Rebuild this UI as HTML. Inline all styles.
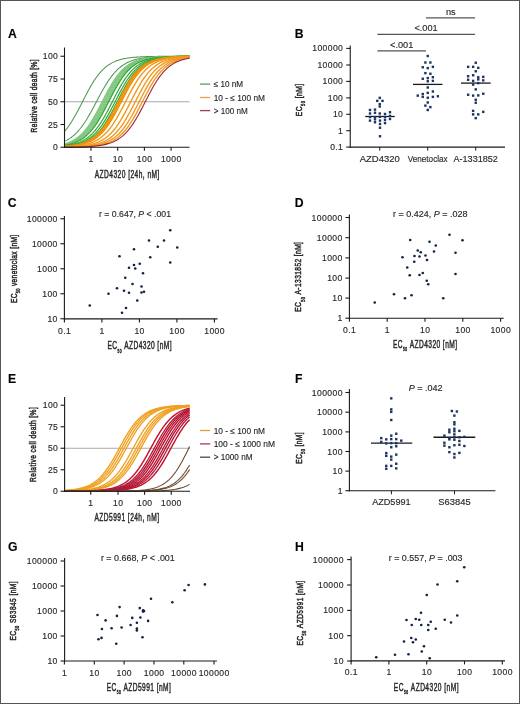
<!DOCTYPE html>
<html><head><meta charset="utf-8"><style>
html,body{margin:0;padding:0;background:#fff;}
svg{display:block;font-family:"Liberation Sans", sans-serif;will-change:transform;}
text{stroke:#2a2a2a;stroke-width:0.15px;}
.lab{stroke-width:0.5px;}
</style></head><body>
<svg width="520" height="704" viewBox="0 0 520 704">
<rect width="520" height="704" fill="#fff"/>
<rect x="0.5" y="0.5" width="519" height="703" fill="none" stroke="#555" stroke-width="1"/>
<text x="8.00" y="38.10" font-size="12.2" text-anchor="start" fill="#000" font-weight="bold" >A</text>
<line x1="64.50" y1="101.75" x2="189.50" y2="101.75" stroke="#a8a8a8" stroke-width="1.0" />
<polyline points="64.50,131.34 65.50,130.17 66.50,128.94 67.50,127.65 68.50,126.29 69.50,124.87 70.50,123.38 71.50,121.83 72.50,120.22 73.50,118.55 74.50,116.83 75.50,115.06 76.50,113.25 77.50,111.39 78.50,109.50 79.50,107.58 80.50,105.64 81.50,103.69 82.50,101.73 83.50,99.77 84.50,97.81 85.50,95.88 86.50,93.96 87.50,92.07 88.50,90.21 89.50,88.40 90.50,86.63 91.50,84.91 92.50,83.24 93.50,81.64 94.50,80.09 95.50,78.60 96.50,77.18 97.50,75.82 98.50,74.53 99.50,73.30 100.50,72.14 101.50,71.04 102.50,70.00 103.50,69.03 104.50,68.11 105.50,67.25 106.50,66.44 107.50,65.69 108.50,64.98 109.50,64.32 110.50,63.71 111.50,63.14 112.50,62.61 113.50,62.12 114.50,61.66 115.50,61.24 116.50,60.85 117.50,60.49 118.50,60.15 119.50,59.84 120.50,59.56 121.50,59.29 122.50,59.05 123.50,58.82 124.50,58.62 125.50,58.43 126.50,58.25 127.50,58.09 128.50,57.94 129.50,57.80 130.50,57.68 131.50,57.56 132.50,57.45 133.50,57.35 134.50,57.26 135.50,57.18 136.50,57.11 137.50,57.04 138.50,56.97 139.50,56.91 140.50,56.86 141.50,56.81 142.50,56.76 143.50,56.72 144.50,56.68 145.50,56.65 146.50,56.61 147.50,56.58 148.50,56.56 149.50,56.53 150.50,56.51 151.50,56.49 152.50,56.47 153.50,56.45 154.50,56.43 155.50,56.42 156.50,56.40 157.50,56.39 158.50,56.38 159.50,56.37 160.50,56.36 161.50,56.35 162.50,56.34 163.50,56.33 164.50,56.33 165.50,56.32 166.50,56.31 167.50,56.31 168.50,56.30 169.50,56.30 170.50,56.30 171.50,56.29 172.50,56.29 173.50,56.29 174.50,56.28 175.50,56.28 176.50,56.28 177.50,56.28 178.50,56.27 179.50,56.27 180.50,56.27 181.50,56.27 182.50,56.27 183.50,56.26 184.50,56.26 185.50,56.26 186.50,56.26 187.50,56.26 188.50,56.26 189.50,56.26" fill="none" stroke="#4a9a50" stroke-width="1.05"/>
<polyline points="64.50,141.37 65.50,140.89 66.50,140.38 67.50,139.83 68.50,139.24 69.50,138.61 70.50,137.93 71.50,137.21 72.50,136.44 73.50,135.61 74.50,134.74 75.50,133.81 76.50,132.82 77.50,131.77 78.50,130.67 79.50,129.51 80.50,128.28 81.50,126.99 82.50,125.65 83.50,124.24 84.50,122.77 85.50,121.24 86.50,119.66 87.50,118.03 88.50,116.35 89.50,114.62 90.50,112.85 91.50,111.04 92.50,109.20 93.50,107.34 94.50,105.45 95.50,103.56 96.50,101.65 97.50,99.75 98.50,97.86 99.50,95.98 100.50,94.12 101.50,92.28 102.50,90.48 103.50,88.71 104.50,86.98 105.50,85.31 106.50,83.68 107.50,82.10 108.50,80.58 109.50,79.12 110.50,77.72 111.50,76.37 112.50,75.09 113.50,73.87 114.50,72.72 115.50,71.62 116.50,70.58 117.50,69.60 118.50,68.67 119.50,67.80 120.50,66.98 121.50,66.22 122.50,65.50 123.50,64.83 124.50,64.20 125.50,63.61 126.50,63.07 127.50,62.56 128.50,62.08 129.50,61.64 130.50,61.23 131.50,60.85 132.50,60.50 133.50,60.18 134.50,59.87 135.50,59.59 136.50,59.33 137.50,59.09 138.50,58.87 139.50,58.67 140.50,58.48 141.50,58.30 142.50,58.14 143.50,57.99 144.50,57.86 145.50,57.73 146.50,57.61 147.50,57.50 148.50,57.40 149.50,57.31 150.50,57.23 151.50,57.15 152.50,57.08 153.50,57.01 154.50,56.95 155.50,56.90 156.50,56.85 157.50,56.80 158.50,56.75 159.50,56.71 160.50,56.68 161.50,56.64 162.50,56.61 163.50,56.58 164.50,56.56 165.50,56.53 166.50,56.51 167.50,56.49 168.50,56.47 169.50,56.45 170.50,56.44 171.50,56.42 172.50,56.41 173.50,56.39 174.50,56.38 175.50,56.37 176.50,56.36 177.50,56.35 178.50,56.35 179.50,56.34 180.50,56.33 181.50,56.32 182.50,56.32 183.50,56.31 184.50,56.31 185.50,56.30 186.50,56.30 187.50,56.29 188.50,56.29 189.50,56.29" fill="none" stroke="#4a9a50" stroke-width="1.05"/>
<polyline points="64.50,143.82 65.50,143.53 66.50,143.21 67.50,142.86 68.50,142.49 69.50,142.08 70.50,141.64 71.50,141.17 72.50,140.66 73.50,140.12 74.50,139.53 75.50,138.90 76.50,138.22 77.50,137.50 78.50,136.72 79.50,135.89 80.50,135.00 81.50,134.06 82.50,133.06 83.50,131.99 84.50,130.87 85.50,129.68 86.50,128.42 87.50,127.10 88.50,125.71 89.50,124.26 90.50,122.75 91.50,121.18 92.50,119.54 93.50,117.85 94.50,116.11 95.50,114.32 96.50,112.49 97.50,110.62 98.50,108.72 99.50,106.79 100.50,104.84 101.50,102.89 102.50,100.93 103.50,98.97 104.50,97.02 105.50,95.09 106.50,93.18 107.50,91.31 108.50,89.47 109.50,87.67 110.50,85.92 111.50,84.22 112.50,82.58 113.50,81.00 114.50,79.47 115.50,78.01 116.50,76.62 117.50,75.29 118.50,74.02 119.50,72.82 120.50,71.68 121.50,70.61 122.50,69.60 123.50,68.64 124.50,67.75 125.50,66.91 126.50,66.13 127.50,65.39 128.50,64.71 129.50,64.07 130.50,63.47 131.50,62.92 132.50,62.41 133.50,61.93 134.50,61.49 135.50,61.08 136.50,60.70 137.50,60.35 138.50,60.02 139.50,59.72 140.50,59.45 141.50,59.19 142.50,58.95 143.50,58.74 144.50,58.54 145.50,58.35 146.50,58.18 147.50,58.03 148.50,57.88 149.50,57.75 150.50,57.63 151.50,57.51 152.50,57.41 153.50,57.32 154.50,57.23 155.50,57.15 156.50,57.08 157.50,57.01 158.50,56.95 159.50,56.89 160.50,56.84 161.50,56.79 162.50,56.74 163.50,56.70 164.50,56.67 165.50,56.63 166.50,56.60 167.50,56.57 168.50,56.55 169.50,56.52 170.50,56.50 171.50,56.48 172.50,56.46 173.50,56.44 174.50,56.43 175.50,56.41 176.50,56.40 177.50,56.39 178.50,56.37 179.50,56.36 180.50,56.36 181.50,56.35 182.50,56.34 183.50,56.33 184.50,56.32 185.50,56.32 186.50,56.31 187.50,56.31 188.50,56.30 189.50,56.30" fill="none" stroke="#7cc67c" stroke-width="1.1"/>
<polyline points="64.50,144.09 65.50,143.82 66.50,143.52 67.50,143.20 68.50,142.85 69.50,142.47 70.50,142.07 71.50,141.63 72.50,141.16 73.50,140.65 74.50,140.10 75.50,139.51 76.50,138.88 77.50,138.20 78.50,137.47 79.50,136.70 80.50,135.86 81.50,134.98 82.50,134.03 83.50,133.03 84.50,131.96 85.50,130.83 86.50,129.64 87.50,128.38 88.50,127.06 89.50,125.68 90.50,124.22 91.50,122.71 92.50,121.13 93.50,119.50 94.50,117.81 95.50,116.06 96.50,114.27 97.50,112.44 98.50,110.57 99.50,108.67 100.50,106.74 101.50,104.79 102.50,102.83 103.50,100.87 104.50,98.91 105.50,96.97 106.50,95.03 107.50,93.13 108.50,91.25 109.50,89.42 110.50,87.62 111.50,85.87 112.50,84.18 113.50,82.53 114.50,80.95 115.50,79.43 116.50,77.97 117.50,76.58 118.50,75.25 119.50,73.99 120.50,72.79 121.50,71.65 122.50,70.58 123.50,69.57 124.50,68.62 125.50,67.73 126.50,66.89 127.50,66.10 128.50,65.37 129.50,64.69 130.50,64.05 131.50,63.46 132.50,62.90 133.50,62.39 134.50,61.92 135.50,61.47 136.50,61.07 137.50,60.69 138.50,60.34 139.50,60.01 140.50,59.71 141.50,59.44 142.50,59.18 143.50,58.95 144.50,58.73 145.50,58.53 146.50,58.35 147.50,58.18 148.50,58.02 149.50,57.88 150.50,57.75 151.50,57.62 152.50,57.51 153.50,57.41 154.50,57.31 155.50,57.23 156.50,57.15 157.50,57.07 158.50,57.01 159.50,56.94 160.50,56.89 161.50,56.84 162.50,56.79 163.50,56.74 164.50,56.70 165.50,56.67 166.50,56.63 167.50,56.60 168.50,56.57 169.50,56.54 170.50,56.52 171.50,56.50 172.50,56.48 173.50,56.46 174.50,56.44 175.50,56.43 176.50,56.41 177.50,56.40 178.50,56.39 179.50,56.37 180.50,56.36 181.50,56.35 182.50,56.35 183.50,56.34 184.50,56.33 185.50,56.32 186.50,56.32 187.50,56.31 188.50,56.31 189.50,56.30" fill="none" stroke="#7cc67c" stroke-width="1.1"/>
<polyline points="64.50,144.34 65.50,144.08 66.50,143.81 67.50,143.51 68.50,143.19 69.50,142.84 70.50,142.46 71.50,142.06 72.50,141.62 73.50,141.15 74.50,140.64 75.50,140.09 76.50,139.50 77.50,138.86 78.50,138.18 79.50,137.45 80.50,136.67 81.50,135.84 82.50,134.95 83.50,134.01 84.50,133.00 85.50,131.93 86.50,130.80 87.50,129.61 88.50,128.35 89.50,127.02 90.50,125.64 91.50,124.18 92.50,122.67 93.50,121.09 94.50,119.45 95.50,117.76 96.50,116.02 97.50,114.22 98.50,112.39 99.50,110.52 100.50,108.61 101.50,106.68 102.50,104.74 103.50,102.78 104.50,100.82 105.50,98.86 106.50,96.91 107.50,94.98 108.50,93.08 109.50,91.20 110.50,89.37 111.50,87.57 112.50,85.82 113.50,84.13 114.50,82.49 115.50,80.91 116.50,79.39 117.50,77.93 118.50,76.54 119.50,75.21 120.50,73.95 121.50,72.75 122.50,71.62 123.50,70.55 124.50,69.54 125.50,68.59 126.50,67.70 127.50,66.87 128.50,66.08 129.50,65.35 130.50,64.67 131.50,64.03 132.50,63.44 133.50,62.89 134.50,62.38 135.50,61.90 136.50,61.46 137.50,61.06 138.50,60.68 139.50,60.33 140.50,60.01 141.50,59.71 142.50,59.43 143.50,59.18 144.50,58.94 145.50,58.73 146.50,58.53 147.50,58.34 148.50,58.17 149.50,58.02 150.50,57.87 151.50,57.74 152.50,57.62 153.50,57.51 154.50,57.41 155.50,57.31 156.50,57.22 157.50,57.15 158.50,57.07 159.50,57.00 160.50,56.94 161.50,56.89 162.50,56.83 163.50,56.79 164.50,56.74 165.50,56.70 166.50,56.66 167.50,56.63 168.50,56.60 169.50,56.57 170.50,56.54 171.50,56.52 172.50,56.50 173.50,56.48 174.50,56.46 175.50,56.44 176.50,56.43 177.50,56.41 178.50,56.40 179.50,56.39 180.50,56.37 181.50,56.36 182.50,56.35 183.50,56.35 184.50,56.34 185.50,56.33 186.50,56.32 187.50,56.32 188.50,56.31 189.50,56.31" fill="none" stroke="#7cc67c" stroke-width="1.1"/>
<polyline points="64.50,144.56 65.50,144.33 66.50,144.07 67.50,143.80 68.50,143.50 69.50,143.18 70.50,142.83 71.50,142.45 72.50,142.05 73.50,141.61 74.50,141.13 75.50,140.62 76.50,140.07 77.50,139.48 78.50,138.84 79.50,138.16 80.50,137.43 81.50,136.65 82.50,135.82 83.50,134.93 84.50,133.98 85.50,132.97 86.50,131.90 87.50,130.77 88.50,129.57 89.50,128.31 90.50,126.99 91.50,125.60 92.50,124.14 93.50,122.62 94.50,121.04 95.50,119.41 96.50,117.71 97.50,115.97 98.50,114.17 99.50,112.34 100.50,110.46 101.50,108.56 102.50,106.63 103.50,104.68 104.50,102.72 105.50,100.76 106.50,98.80 107.50,96.86 108.50,94.93 109.50,93.02 110.50,91.15 111.50,89.32 112.50,87.52 113.50,85.78 114.50,84.08 115.50,82.45 116.50,80.87 117.50,79.35 118.50,77.89 119.50,76.50 120.50,75.18 121.50,73.92 122.50,72.72 123.50,71.59 124.50,70.52 125.50,69.51 126.50,68.57 127.50,67.68 128.50,66.84 129.50,66.06 130.50,65.33 131.50,64.65 132.50,64.02 133.50,63.43 134.50,62.88 135.50,62.36 136.50,61.89 137.50,61.45 138.50,61.04 139.50,60.67 140.50,60.32 141.50,60.00 142.50,59.70 143.50,59.42 144.50,59.17 145.50,58.94 146.50,58.72 147.50,58.52 148.50,58.34 149.50,58.17 150.50,58.01 151.50,57.87 152.50,57.74 153.50,57.62 154.50,57.51 155.50,57.40 156.50,57.31 157.50,57.22 158.50,57.14 159.50,57.07 160.50,57.00 161.50,56.94 162.50,56.88 163.50,56.83 164.50,56.78 165.50,56.74 166.50,56.70 167.50,56.66 168.50,56.63 169.50,56.60 170.50,56.57 171.50,56.54 172.50,56.52 173.50,56.50 174.50,56.48 175.50,56.46 176.50,56.44 177.50,56.42 178.50,56.41 179.50,56.40 180.50,56.39 181.50,56.37 182.50,56.36 183.50,56.35 184.50,56.35 185.50,56.34 186.50,56.33 187.50,56.32 188.50,56.32 189.50,56.31" fill="none" stroke="#7cc67c" stroke-width="1.1"/>
<polyline points="64.50,144.77 65.50,144.56 66.50,144.32 67.50,144.07 68.50,143.79 69.50,143.49 70.50,143.17 71.50,142.82 72.50,142.44 73.50,142.03 74.50,141.59 75.50,141.12 76.50,140.61 77.50,140.06 78.50,139.46 79.50,138.83 80.50,138.14 81.50,137.41 82.50,136.63 83.50,135.79 84.50,134.90 85.50,133.95 86.50,132.94 87.50,131.87 88.50,130.74 89.50,129.54 90.50,128.28 91.50,126.95 92.50,125.56 93.50,124.10 94.50,122.58 95.50,121.00 96.50,119.36 97.50,117.66 98.50,115.92 99.50,114.12 100.50,112.29 101.50,110.41 102.50,108.51 103.50,106.58 104.50,104.63 105.50,102.67 106.50,100.71 107.50,98.75 108.50,96.80 109.50,94.88 110.50,92.97 111.50,91.10 112.50,89.26 113.50,87.47 114.50,85.73 115.50,84.04 116.50,82.40 117.50,80.82 118.50,79.31 119.50,77.85 120.50,76.47 121.50,75.14 122.50,73.88 123.50,72.69 124.50,71.56 125.50,70.49 126.50,69.49 127.50,68.54 128.50,67.65 129.50,66.82 130.50,66.04 131.50,65.31 132.50,64.63 133.50,64.00 134.50,63.41 135.50,62.86 136.50,62.35 137.50,61.88 138.50,61.44 139.50,61.03 140.50,60.66 141.50,60.31 142.50,59.99 143.50,59.69 144.50,59.42 145.50,59.16 146.50,58.93 147.50,58.71 148.50,58.52 149.50,58.33 150.50,58.16 151.50,58.01 152.50,57.87 153.50,57.73 154.50,57.61 155.50,57.50 156.50,57.40 157.50,57.31 158.50,57.22 159.50,57.14 160.50,57.07 161.50,57.00 162.50,56.94 163.50,56.88 164.50,56.83 165.50,56.78 166.50,56.74 167.50,56.70 168.50,56.66 169.50,56.63 170.50,56.60 171.50,56.57 172.50,56.54 173.50,56.52 174.50,56.50 175.50,56.48 176.50,56.46 177.50,56.44 178.50,56.42 179.50,56.41 180.50,56.40 181.50,56.38 182.50,56.37 183.50,56.36 184.50,56.35 185.50,56.35 186.50,56.34 187.50,56.33 188.50,56.32 189.50,56.32" fill="none" stroke="#7cc67c" stroke-width="1.1"/>
<polyline points="64.50,144.97 65.50,144.77 66.50,144.55 67.50,144.32 68.50,144.06 69.50,143.78 70.50,143.48 71.50,143.16 72.50,142.81 73.50,142.43 74.50,142.02 75.50,141.58 76.50,141.10 77.50,140.59 78.50,140.04 79.50,139.45 80.50,138.81 81.50,138.12 82.50,137.39 83.50,136.61 84.50,135.77 85.50,134.88 86.50,133.92 87.50,132.91 88.50,131.84 89.50,130.71 90.50,129.51 91.50,128.24 92.50,126.91 93.50,125.52 94.50,124.06 95.50,122.54 96.50,120.95 97.50,119.31 98.50,117.62 99.50,115.87 100.50,114.07 101.50,112.23 102.50,110.36 103.50,108.45 104.50,106.52 105.50,104.57 106.50,102.62 107.50,100.65 108.50,98.70 109.50,96.75 110.50,94.82 111.50,92.92 112.50,91.05 113.50,89.21 114.50,87.42 115.50,85.68 116.50,83.99 117.50,82.36 118.50,80.78 119.50,79.27 120.50,77.82 121.50,76.43 122.50,75.11 123.50,73.85 124.50,72.66 125.50,71.53 126.50,70.46 127.50,69.46 128.50,68.52 129.50,67.63 130.50,66.80 131.50,66.02 132.50,65.29 133.50,64.61 134.50,63.98 135.50,63.39 136.50,62.85 137.50,62.34 138.50,61.87 139.50,61.43 140.50,61.02 141.50,60.65 142.50,60.30 143.50,59.98 144.50,59.68 145.50,59.41 146.50,59.16 147.50,58.92 148.50,58.71 149.50,58.51 150.50,58.33 151.50,58.16 152.50,58.00 153.50,57.86 154.50,57.73 155.50,57.61 156.50,57.50 157.50,57.40 158.50,57.30 159.50,57.22 160.50,57.14 161.50,57.07 162.50,57.00 163.50,56.94 164.50,56.88 165.50,56.83 166.50,56.78 167.50,56.74 168.50,56.70 169.50,56.66 170.50,56.63 171.50,56.60 172.50,56.57 173.50,56.54 174.50,56.52 175.50,56.50 176.50,56.48 177.50,56.46 178.50,56.44 179.50,56.42 180.50,56.41 181.50,56.40 182.50,56.38 183.50,56.37 184.50,56.36 185.50,56.35 186.50,56.35 187.50,56.34 188.50,56.33 189.50,56.32" fill="none" stroke="#7cc67c" stroke-width="1.1"/>
<polyline points="64.50,145.15 65.50,144.96 66.50,144.76 67.50,144.54 68.50,144.31 69.50,144.05 70.50,143.78 71.50,143.48 72.50,143.15 73.50,142.80 74.50,142.42 75.50,142.01 76.50,141.57 77.50,141.09 78.50,140.58 79.50,140.02 80.50,139.43 81.50,138.79 82.50,138.10 83.50,137.37 84.50,136.58 85.50,135.75 86.50,134.85 87.50,133.90 88.50,132.88 89.50,131.81 90.50,130.67 91.50,129.47 92.50,128.21 93.50,126.87 94.50,125.48 95.50,124.02 96.50,122.49 97.50,120.91 98.50,119.27 99.50,117.57 100.50,115.82 101.50,114.02 102.50,112.18 103.50,110.31 104.50,108.40 105.50,106.47 106.50,104.52 107.50,102.56 108.50,100.60 109.50,98.64 110.50,96.70 111.50,94.77 112.50,92.87 113.50,91.00 114.50,89.16 115.50,87.38 116.50,85.63 117.50,83.94 118.50,82.31 119.50,80.74 120.50,79.23 121.50,77.78 122.50,76.39 123.50,75.07 124.50,73.82 125.50,72.63 126.50,71.50 127.50,70.44 128.50,69.43 129.50,68.49 130.50,67.61 131.50,66.78 132.50,66.00 133.50,65.27 134.50,64.60 135.50,63.97 136.50,63.38 137.50,62.83 138.50,62.32 139.50,61.85 140.50,61.42 141.50,61.01 142.50,60.64 143.50,60.29 144.50,59.97 145.50,59.67 146.50,59.40 147.50,59.15 148.50,58.92 149.50,58.70 150.50,58.51 151.50,58.32 152.50,58.16 153.50,58.00 154.50,57.86 155.50,57.73 156.50,57.61 157.50,57.50 158.50,57.40 159.50,57.30 160.50,57.22 161.50,57.14 162.50,57.06 163.50,57.00 164.50,56.94 165.50,56.88 166.50,56.83 167.50,56.78 168.50,56.74 169.50,56.70 170.50,56.66 171.50,56.63 172.50,56.60 173.50,56.57 174.50,56.54 175.50,56.52 176.50,56.49 177.50,56.47 178.50,56.46 179.50,56.44 180.50,56.42 181.50,56.41 182.50,56.40 183.50,56.38 184.50,56.37 185.50,56.36 186.50,56.35 187.50,56.35 188.50,56.34 189.50,56.33" fill="none" stroke="#7cc67c" stroke-width="1.1"/>
<polyline points="64.50,145.28 65.50,145.11 66.50,144.92 67.50,144.72 68.50,144.49 69.50,144.25 70.50,143.99 71.50,143.71 72.50,143.41 73.50,143.08 74.50,142.72 75.50,142.33 76.50,141.92 77.50,141.47 78.50,140.98 79.50,140.46 80.50,139.90 81.50,139.29 82.50,138.64 83.50,137.95 84.50,137.20 85.50,136.41 86.50,135.55 87.50,134.65 88.50,133.68 89.50,132.66 90.50,131.57 91.50,130.42 92.50,129.20 93.50,127.92 94.50,126.58 95.50,125.17 96.50,123.69 97.50,122.15 98.50,120.56 99.50,118.90 100.50,117.19 101.50,115.43 102.50,113.62 103.50,111.78 104.50,109.89 105.50,107.98 106.50,106.04 107.50,104.09 108.50,102.13 109.50,100.17 110.50,98.22 111.50,96.27 112.50,94.35 113.50,92.46 114.50,90.59 115.50,88.77 116.50,86.99 117.50,85.26 118.50,83.58 119.50,81.96 120.50,80.40 121.50,78.90 122.50,77.47 123.50,76.10 124.50,74.79 125.50,73.55 126.50,72.38 127.50,71.26 128.50,70.21 129.50,69.22 130.50,68.29 131.50,67.42 132.50,66.60 133.50,65.84 134.50,65.12 135.50,64.46 136.50,63.83 137.50,63.26 138.50,62.72 139.50,62.22 140.50,61.76 141.50,61.33 142.50,60.93 143.50,60.56 144.50,60.22 145.50,59.90 146.50,59.61 147.50,59.35 148.50,59.10 149.50,58.87 150.50,58.66 151.50,58.46 152.50,58.29 153.50,58.12 154.50,57.97 155.50,57.83 156.50,57.70 157.50,57.58 158.50,57.47 159.50,57.37 160.50,57.28 161.50,57.20 162.50,57.12 163.50,57.05 164.50,56.98 165.50,56.92 166.50,56.87 167.50,56.82 168.50,56.77 169.50,56.73 170.50,56.69 171.50,56.65 172.50,56.62 173.50,56.59 174.50,56.56 175.50,56.54 176.50,56.51 177.50,56.49 178.50,56.47 179.50,56.45 180.50,56.44 181.50,56.42 182.50,56.41 183.50,56.39 184.50,56.38 185.50,56.37 186.50,56.36 187.50,56.35 188.50,56.34 189.50,56.34" fill="none" stroke="#34a834" stroke-width="1.2"/>
<polyline points="64.50,145.80 65.50,145.68 66.50,145.54 67.50,145.39 68.50,145.22 69.50,145.04 70.50,144.85 71.50,144.64 72.50,144.41 73.50,144.16 74.50,143.90 75.50,143.61 76.50,143.29 77.50,142.95 78.50,142.59 79.50,142.19 80.50,141.76 81.50,141.30 82.50,140.80 83.50,140.27 84.50,139.69 85.50,139.07 86.50,138.40 87.50,137.69 88.50,136.93 89.50,136.11 90.50,135.24 91.50,134.31 92.50,133.33 93.50,132.28 94.50,131.17 95.50,129.99 96.50,128.76 97.50,127.45 98.50,126.08 99.50,124.65 100.50,123.16 101.50,121.60 102.50,119.98 103.50,118.30 104.50,116.58 105.50,114.80 106.50,112.98 107.50,111.11 108.50,109.22 109.50,107.30 110.50,105.36 111.50,103.40 112.50,101.44 113.50,99.48 114.50,97.53 115.50,95.59 116.50,93.68 117.50,91.79 118.50,89.95 119.50,88.14 120.50,86.37 121.50,84.66 122.50,83.00 123.50,81.41 124.50,79.87 125.50,78.39 126.50,76.98 127.50,75.63 128.50,74.35 129.50,73.13 130.50,71.97 131.50,70.88 132.50,69.86 133.50,68.89 134.50,67.98 135.50,67.13 136.50,66.33 137.50,65.58 138.50,64.88 139.50,64.23 140.50,63.62 141.50,63.06 142.50,62.54 143.50,62.05 144.50,61.60 145.50,61.18 146.50,60.79 147.50,60.44 148.50,60.11 149.50,59.80 150.50,59.52 151.50,59.26 152.50,59.01 153.50,58.79 154.50,58.59 155.50,58.40 156.50,58.23 157.50,58.07 158.50,57.92 159.50,57.78 160.50,57.66 161.50,57.54 162.50,57.44 163.50,57.34 164.50,57.25 165.50,57.17 166.50,57.09 167.50,57.03 168.50,56.96 169.50,56.90 170.50,56.85 171.50,56.80 172.50,56.76 173.50,56.71 174.50,56.68 175.50,56.64 176.50,56.61 177.50,56.58 178.50,56.55 179.50,56.53 180.50,56.50 181.50,56.48 182.50,56.46 183.50,56.45 184.50,56.43 185.50,56.42 186.50,56.40 187.50,56.39 188.50,56.38 189.50,56.37" fill="none" stroke="#34a834" stroke-width="1.2"/>
<polyline points="64.50,146.11 65.50,146.01 66.50,145.90 67.50,145.78 68.50,145.64 69.50,145.50 70.50,145.35 71.50,145.18 72.50,145.00 73.50,144.80 74.50,144.59 75.50,144.36 76.50,144.11 77.50,143.83 78.50,143.54 79.50,143.22 80.50,142.87 81.50,142.50 82.50,142.09 83.50,141.66 84.50,141.19 85.50,140.68 86.50,140.14 87.50,139.55 88.50,138.92 89.50,138.24 90.50,137.52 91.50,136.74 92.50,135.92 93.50,135.03 94.50,134.09 95.50,133.09 96.50,132.03 97.50,130.90 98.50,129.72 99.50,128.46 100.50,127.14 101.50,125.76 102.50,124.31 103.50,122.80 104.50,121.23 105.50,119.60 106.50,117.91 107.50,116.17 108.50,114.38 109.50,112.55 110.50,110.68 111.50,108.78 112.50,106.85 113.50,104.91 114.50,102.95 115.50,100.99 116.50,99.03 117.50,97.08 118.50,95.15 119.50,93.24 120.50,91.37 121.50,89.53 122.50,87.73 123.50,85.98 124.50,84.28 125.50,82.63 126.50,81.05 127.50,79.52 128.50,78.06 129.50,76.66 130.50,75.33 131.50,74.06 132.50,72.86 133.50,71.72 134.50,70.64 135.50,69.63 136.50,68.67 137.50,67.78 138.50,66.94 139.50,66.15 140.50,65.41 141.50,64.73 142.50,64.09 143.50,63.49 144.50,62.94 145.50,62.42 146.50,61.94 147.50,61.50 148.50,61.09 149.50,60.71 150.50,60.36 151.50,60.03 152.50,59.73 153.50,59.45 154.50,59.20 155.50,58.96 156.50,58.74 157.50,58.54 158.50,58.36 159.50,58.19 160.50,58.03 161.50,57.89 162.50,57.75 163.50,57.63 164.50,57.52 165.50,57.41 166.50,57.32 167.50,57.23 168.50,57.15 169.50,57.08 170.50,57.01 171.50,56.95 172.50,56.89 173.50,56.84 174.50,56.79 175.50,56.75 176.50,56.70 177.50,56.67 178.50,56.63 179.50,56.60 180.50,56.57 181.50,56.55 182.50,56.52 183.50,56.50 184.50,56.48 185.50,56.46 186.50,56.44 187.50,56.43 188.50,56.41 189.50,56.40" fill="none" stroke="#34a834" stroke-width="1.2"/>
<polyline points="64.50,146.30 65.50,146.21 66.50,146.12 67.50,146.02 68.50,145.91 69.50,145.79 70.50,145.66 71.50,145.52 72.50,145.37 73.50,145.20 74.50,145.02 75.50,144.83 76.50,144.61 77.50,144.38 78.50,144.13 79.50,143.86 80.50,143.57 81.50,143.26 82.50,142.91 83.50,142.54 84.50,142.14 85.50,141.71 86.50,141.24 87.50,140.74 88.50,140.20 89.50,139.62 90.50,138.99 91.50,138.32 92.50,137.61 93.50,136.84 94.50,136.01 95.50,135.14 96.50,134.20 97.50,133.21 98.50,132.15 99.50,131.04 100.50,129.85 101.50,128.61 102.50,127.30 103.50,125.92 104.50,124.48 105.50,122.98 106.50,121.41 107.50,119.79 108.50,118.11 109.50,116.37 110.50,114.59 111.50,112.76 112.50,110.90 113.50,109.00 114.50,107.07 115.50,105.13 116.50,103.18 117.50,101.21 118.50,99.25 119.50,97.30 120.50,95.37 121.50,93.46 122.50,91.58 123.50,89.73 124.50,87.93 125.50,86.17 126.50,84.47 127.50,82.82 128.50,81.22 129.50,79.69 130.50,78.22 131.50,76.82 132.50,75.48 133.50,74.20 134.50,72.99 135.50,71.85 136.50,70.76 137.50,69.74 138.50,68.78 139.50,67.88 140.50,67.03 141.50,66.24 142.50,65.50 143.50,64.80 144.50,64.16 145.50,63.56 146.50,63.00 147.50,62.48 148.50,62.00 149.50,61.55 150.50,61.14 151.50,60.75 152.50,60.40 153.50,60.07 154.50,59.77 155.50,59.48 156.50,59.23 157.50,58.99 158.50,58.77 159.50,58.57 160.50,58.38 161.50,58.21 162.50,58.05 163.50,57.90 164.50,57.77 165.50,57.64 166.50,57.53 167.50,57.43 168.50,57.33 169.50,57.24 170.50,57.16 171.50,57.09 172.50,57.02 173.50,56.95 174.50,56.90 175.50,56.84 176.50,56.80 177.50,56.75 178.50,56.71 179.50,56.67 180.50,56.64 181.50,56.60 182.50,56.58 183.50,56.55 184.50,56.52 185.50,56.50 186.50,56.48 187.50,56.46 188.50,56.44 189.50,56.43" fill="none" stroke="#34a834" stroke-width="1.2"/>
<polyline points="64.50,146.38 65.50,146.31 66.50,146.22 67.50,146.13 68.50,146.03 69.50,145.93 70.50,145.81 71.50,145.68 72.50,145.54 73.50,145.39 74.50,145.23 75.50,145.05 76.50,144.86 77.50,144.65 78.50,144.42 79.50,144.17 80.50,143.91 81.50,143.62 82.50,143.30 83.50,142.97 84.50,142.60 85.50,142.20 86.50,141.78 87.50,141.32 88.50,140.82 89.50,140.28 90.50,139.71 91.50,139.09 92.50,138.43 93.50,137.72 94.50,136.95 95.50,136.14 96.50,135.27 97.50,134.34 98.50,133.36 99.50,132.31 100.50,131.21 101.50,130.03 102.50,128.80 103.50,127.50 104.50,126.13 105.50,124.70 106.50,123.21 107.50,121.65 108.50,120.03 109.50,118.36 110.50,116.63 111.50,114.86 112.50,113.04 113.50,111.18 114.50,109.28 115.50,107.36 116.50,105.42 117.50,103.47 118.50,101.51 119.50,99.55 120.50,97.59 121.50,95.66 122.50,93.74 123.50,91.86 124.50,90.01 125.50,88.20 126.50,86.43 127.50,84.72 128.50,83.06 129.50,81.46 130.50,79.92 131.50,78.44 132.50,77.02 133.50,75.67 134.50,74.39 135.50,73.17 136.50,72.01 137.50,70.92 138.50,69.89 139.50,68.92 140.50,68.01 141.50,67.15 142.50,66.35 143.50,65.60 144.50,64.90 145.50,64.25 146.50,63.64 147.50,63.08 148.50,62.55 149.50,62.07 150.50,61.61 151.50,61.19 152.50,60.81 153.50,60.45 154.50,60.12 155.50,59.81 156.50,59.53 157.50,59.26 158.50,59.02 159.50,58.80 160.50,58.59 161.50,58.41 162.50,58.23 163.50,58.07 164.50,57.92 165.50,57.79 166.50,57.66 167.50,57.55 168.50,57.44 169.50,57.34 170.50,57.25 171.50,57.17 172.50,57.10 173.50,57.03 174.50,56.96 175.50,56.91 176.50,56.85 177.50,56.80 178.50,56.76 179.50,56.72 180.50,56.68 181.50,56.64 182.50,56.61 183.50,56.58 184.50,56.55 185.50,56.53 186.50,56.50 187.50,56.48 188.50,56.46 189.50,56.45" fill="none" stroke="#f0900a" stroke-width="1.5"/>
<polyline points="64.50,146.48 65.50,146.42 66.50,146.34 67.50,146.26 68.50,146.17 69.50,146.08 70.50,145.97 71.50,145.86 72.50,145.74 73.50,145.60 74.50,145.46 75.50,145.30 76.50,145.13 77.50,144.94 78.50,144.74 79.50,144.52 80.50,144.28 81.50,144.03 82.50,143.75 83.50,143.44 84.50,143.12 85.50,142.76 86.50,142.38 87.50,141.97 88.50,141.52 89.50,141.04 90.50,140.52 91.50,139.97 92.50,139.37 93.50,138.72 94.50,138.03 95.50,137.29 96.50,136.50 97.50,135.66 98.50,134.76 99.50,133.80 100.50,132.78 101.50,131.70 102.50,130.56 103.50,129.35 104.50,128.08 105.50,126.74 106.50,125.34 107.50,123.87 108.50,122.34 109.50,120.75 110.50,119.10 111.50,117.40 112.50,115.64 113.50,113.84 114.50,112.00 115.50,110.12 116.50,108.21 117.50,106.28 118.50,104.33 119.50,102.37 120.50,100.40 121.50,98.45 122.50,96.50 123.50,94.58 124.50,92.68 125.50,90.81 126.50,88.98 127.50,87.20 128.50,85.46 129.50,83.78 130.50,82.15 131.50,80.58 132.50,79.08 133.50,77.64 134.50,76.26 135.50,74.94 136.50,73.70 137.50,72.51 138.50,71.39 139.50,70.33 140.50,69.34 141.50,68.40 142.50,67.52 143.50,66.70 144.50,65.93 145.50,65.20 146.50,64.53 147.50,63.91 148.50,63.32 149.50,62.78 150.50,62.28 151.50,61.81 152.50,61.37 153.50,60.97 154.50,60.60 155.50,60.26 156.50,59.94 157.50,59.65 158.50,59.38 159.50,59.13 160.50,58.89 161.50,58.68 162.50,58.49 163.50,58.31 164.50,58.14 165.50,57.99 166.50,57.85 167.50,57.72 168.50,57.60 169.50,57.49 170.50,57.39 171.50,57.29 172.50,57.21 173.50,57.13 174.50,57.06 175.50,56.99 176.50,56.93 177.50,56.87 178.50,56.82 179.50,56.78 180.50,56.73 181.50,56.69 182.50,56.66 183.50,56.62 184.50,56.59 185.50,56.56 186.50,56.54 187.50,56.51 188.50,56.49 189.50,56.47" fill="none" stroke="#f0900a" stroke-width="1.5"/>
<polyline points="64.50,146.57 65.50,146.51 66.50,146.45 67.50,146.38 68.50,146.30 69.50,146.21 70.50,146.12 71.50,146.02 72.50,145.91 73.50,145.79 74.50,145.67 75.50,145.53 76.50,145.37 77.50,145.21 78.50,145.03 79.50,144.83 80.50,144.62 81.50,144.39 82.50,144.14 83.50,143.88 84.50,143.58 85.50,143.27 86.50,142.93 87.50,142.56 88.50,142.16 89.50,141.73 90.50,141.26 91.50,140.76 92.50,140.22 93.50,139.64 94.50,139.02 95.50,138.35 96.50,137.63 97.50,136.87 98.50,136.05 99.50,135.17 100.50,134.24 101.50,133.25 102.50,132.20 103.50,131.08 104.50,129.90 105.50,128.66 106.50,127.35 107.50,125.98 108.50,124.54 109.50,123.04 110.50,121.47 111.50,119.85 112.50,118.17 113.50,116.44 114.50,114.66 115.50,112.83 116.50,110.97 117.50,109.07 118.50,107.15 119.50,105.21 120.50,103.25 121.50,101.29 122.50,99.33 123.50,97.38 124.50,95.44 125.50,93.53 126.50,91.65 127.50,89.80 128.50,88.00 129.50,86.24 130.50,84.53 131.50,82.88 132.50,81.28 133.50,79.75 134.50,78.28 135.50,76.87 136.50,75.53 137.50,74.25 138.50,73.04 139.50,71.89 140.50,70.80 141.50,69.78 142.50,68.82 143.50,67.91 144.50,67.06 145.50,66.27 146.50,65.52 147.50,64.83 148.50,64.18 149.50,63.58 150.50,63.02 151.50,62.50 152.50,62.01 153.50,61.57 154.50,61.15 155.50,60.77 156.50,60.41 157.50,60.08 158.50,59.78 159.50,59.50 160.50,59.24 161.50,59.00 162.50,58.78 163.50,58.57 164.50,58.39 165.50,58.21 166.50,58.05 167.50,57.91 168.50,57.77 169.50,57.65 170.50,57.53 171.50,57.43 172.50,57.33 173.50,57.25 174.50,57.16 175.50,57.09 176.50,57.02 177.50,56.96 178.50,56.90 179.50,56.85 180.50,56.80 181.50,56.75 182.50,56.71 183.50,56.67 184.50,56.64 185.50,56.61 186.50,56.58 187.50,56.55 188.50,56.53 189.50,56.50" fill="none" stroke="#f0900a" stroke-width="1.5"/>
<polyline points="64.50,146.78 65.50,146.74 66.50,146.69 67.50,146.64 68.50,146.59 69.50,146.53 70.50,146.46 71.50,146.39 72.50,146.32 73.50,146.23 74.50,146.14 75.50,146.05 76.50,145.94 77.50,145.82 78.50,145.70 79.50,145.56 80.50,145.41 81.50,145.25 82.50,145.07 83.50,144.88 84.50,144.67 85.50,144.45 86.50,144.21 87.50,143.94 88.50,143.66 89.50,143.35 90.50,143.01 91.50,142.65 92.50,142.26 93.50,141.83 94.50,141.38 95.50,140.88 96.50,140.35 97.50,139.78 98.50,139.17 99.50,138.51 100.50,137.81 101.50,137.05 102.50,136.25 103.50,135.38 104.50,134.47 105.50,133.49 106.50,132.45 107.50,131.35 108.50,130.19 109.50,128.96 110.50,127.67 111.50,126.31 112.50,124.89 113.50,123.40 114.50,121.85 115.50,120.24 116.50,118.58 117.50,116.86 118.50,115.09 119.50,113.27 120.50,111.42 121.50,109.53 122.50,107.61 123.50,105.67 124.50,103.72 125.50,101.76 126.50,99.80 127.50,97.84 128.50,95.90 129.50,93.99 130.50,92.10 131.50,90.24 132.50,88.42 133.50,86.65 134.50,84.93 135.50,83.27 136.50,81.66 137.50,80.11 138.50,78.62 139.50,77.20 140.50,75.84 141.50,74.55 142.50,73.32 143.50,72.16 144.50,71.06 145.50,70.02 146.50,69.04 147.50,68.12 148.50,67.26 149.50,66.45 150.50,65.70 151.50,64.99 152.50,64.33 153.50,63.72 154.50,63.15 155.50,62.62 156.50,62.13 157.50,61.67 158.50,61.25 159.50,60.85 160.50,60.49 161.50,60.16 162.50,59.85 163.50,59.56 164.50,59.30 165.50,59.05 166.50,58.83 167.50,58.62 168.50,58.43 169.50,58.25 170.50,58.09 171.50,57.94 172.50,57.80 173.50,57.68 174.50,57.56 175.50,57.45 176.50,57.36 177.50,57.27 178.50,57.18 179.50,57.11 180.50,57.04 181.50,56.97 182.50,56.91 183.50,56.86 184.50,56.81 185.50,56.76 186.50,56.72 187.50,56.68 188.50,56.65 189.50,56.61" fill="none" stroke="#f09a20" stroke-width="1.4"/>
<polyline points="64.50,146.95 65.50,146.92 66.50,146.89 67.50,146.86 68.50,146.83 69.50,146.79 70.50,146.75 71.50,146.70 72.50,146.65 73.50,146.60 74.50,146.54 75.50,146.48 76.50,146.41 77.50,146.33 78.50,146.25 79.50,146.16 80.50,146.07 81.50,145.96 82.50,145.85 83.50,145.72 84.50,145.59 85.50,145.44 86.50,145.28 87.50,145.11 88.50,144.92 89.50,144.72 90.50,144.50 91.50,144.26 92.50,144.00 93.50,143.72 94.50,143.41 95.50,143.08 96.50,142.72 97.50,142.34 98.50,141.92 99.50,141.47 100.50,140.99 101.50,140.47 102.50,139.90 103.50,139.30 104.50,138.65 105.50,137.96 106.50,137.21 107.50,136.42 108.50,135.56 109.50,134.66 110.50,133.69 111.50,132.67 112.50,131.58 113.50,130.43 114.50,129.21 115.50,127.94 116.50,126.59 117.50,125.18 118.50,123.71 119.50,122.17 120.50,120.57 121.50,118.92 122.50,117.21 123.50,115.45 124.50,113.64 125.50,111.80 126.50,109.91 127.50,108.00 128.50,106.07 129.50,104.12 130.50,102.16 131.50,100.19 132.50,98.24 133.50,96.30 134.50,94.37 135.50,92.48 136.50,90.61 137.50,88.79 138.50,87.01 139.50,85.28 140.50,83.60 141.50,81.98 142.50,80.42 143.50,78.92 144.50,77.48 145.50,76.11 146.50,74.81 147.50,73.56 148.50,72.39 149.50,71.27 150.50,70.22 151.50,69.23 152.50,68.30 153.50,67.43 154.50,66.61 155.50,65.85 156.50,65.13 157.50,64.46 158.50,63.84 159.50,63.26 160.50,62.72 161.50,62.22 162.50,61.76 163.50,61.33 164.50,60.93 165.50,60.56 166.50,60.22 167.50,59.91 168.50,59.62 169.50,59.35 170.50,59.10 171.50,58.87 172.50,58.66 173.50,58.47 174.50,58.29 175.50,58.12 176.50,57.97 177.50,57.83 178.50,57.70 179.50,57.58 180.50,57.48 181.50,57.38 182.50,57.28 183.50,57.20 184.50,57.12 185.50,57.05 186.50,56.98 187.50,56.92 188.50,56.87 189.50,56.82" fill="none" stroke="#f09a20" stroke-width="1.4"/>
<polyline points="64.50,147.05 65.50,147.03 66.50,147.01 67.50,146.99 68.50,146.96 69.50,146.94 70.50,146.91 71.50,146.88 72.50,146.85 73.50,146.81 74.50,146.77 75.50,146.73 76.50,146.68 77.50,146.63 78.50,146.57 79.50,146.51 80.50,146.45 81.50,146.38 82.50,146.30 83.50,146.21 84.50,146.12 85.50,146.02 86.50,145.91 87.50,145.79 88.50,145.67 89.50,145.53 90.50,145.37 91.50,145.21 92.50,145.03 93.50,144.83 94.50,144.62 95.50,144.39 96.50,144.15 97.50,143.88 98.50,143.58 99.50,143.27 100.50,142.93 101.50,142.56 102.50,142.16 103.50,141.73 104.50,141.26 105.50,140.76 106.50,140.22 107.50,139.64 108.50,139.02 109.50,138.35 110.50,137.64 111.50,136.87 112.50,136.05 113.50,135.17 114.50,134.24 115.50,133.25 116.50,132.20 117.50,131.08 118.50,129.91 119.50,128.66 120.50,127.35 121.50,125.98 122.50,124.54 123.50,123.04 124.50,121.48 125.50,119.86 126.50,118.18 127.50,116.45 128.50,114.67 129.50,112.84 130.50,110.98 131.50,109.08 132.50,107.16 133.50,105.21 134.50,103.26 135.50,101.30 136.50,99.34 137.50,97.39 138.50,95.45 139.50,93.54 140.50,91.66 141.50,89.81 142.50,88.01 143.50,86.25 144.50,84.54 145.50,82.89 146.50,81.29 147.50,79.76 148.50,78.28 149.50,76.88 150.50,75.53 151.50,74.25 152.50,73.04 153.50,71.89 154.50,70.81 155.50,69.78 156.50,68.82 157.50,67.91 158.50,67.06 159.50,66.27 160.50,65.53 161.50,64.83 162.50,64.18 163.50,63.58 164.50,63.02 165.50,62.50 166.50,62.02 167.50,61.57 168.50,61.15 169.50,60.77 170.50,60.41 171.50,60.08 172.50,59.78 173.50,59.50 174.50,59.24 175.50,59.00 176.50,58.78 177.50,58.57 178.50,58.39 179.50,58.21 180.50,58.05 181.50,57.91 182.50,57.77 183.50,57.65 184.50,57.54 185.50,57.43 186.50,57.33 187.50,57.25 188.50,57.16 189.50,57.09" fill="none" stroke="#f09a20" stroke-width="1.4"/>
<polyline points="64.50,147.10 65.50,147.09 66.50,147.08 67.50,147.06 68.50,147.05 69.50,147.03 70.50,147.01 71.50,146.98 72.50,146.96 73.50,146.94 74.50,146.91 75.50,146.88 76.50,146.84 77.50,146.81 78.50,146.77 79.50,146.72 80.50,146.68 81.50,146.62 82.50,146.57 83.50,146.51 84.50,146.44 85.50,146.37 86.50,146.29 87.50,146.21 88.50,146.11 89.50,146.01 90.50,145.90 91.50,145.78 92.50,145.65 93.50,145.51 94.50,145.36 95.50,145.19 96.50,145.01 97.50,144.81 98.50,144.60 99.50,144.37 100.50,144.12 101.50,143.85 102.50,143.56 103.50,143.24 104.50,142.89 105.50,142.52 106.50,142.12 107.50,141.68 108.50,141.22 109.50,140.71 110.50,140.17 111.50,139.59 112.50,138.96 113.50,138.28 114.50,137.56 115.50,136.79 116.50,135.97 117.50,135.09 118.50,134.15 119.50,133.15 120.50,132.09 121.50,130.97 122.50,129.79 123.50,128.54 124.50,127.22 125.50,125.84 126.50,124.40 127.50,122.89 128.50,121.32 129.50,119.69 130.50,118.01 131.50,116.27 132.50,114.49 133.50,112.66 134.50,110.79 135.50,108.89 136.50,106.97 137.50,105.02 138.50,103.07 139.50,101.10 140.50,99.14 141.50,97.20 142.50,95.26 143.50,93.35 144.50,91.47 145.50,89.63 146.50,87.83 147.50,86.08 148.50,84.37 149.50,82.73 150.50,81.14 151.50,79.61 152.50,78.14 153.50,76.74 154.50,75.40 155.50,74.13 156.50,72.93 157.50,71.78 158.50,70.70 159.50,69.69 160.50,68.73 161.50,67.83 162.50,66.98 163.50,66.19 164.50,65.46 165.50,64.77 166.50,64.12 167.50,63.52 168.50,62.97 169.50,62.45 170.50,61.97 171.50,61.53 172.50,61.11 173.50,60.73 174.50,60.38 175.50,60.05 176.50,59.75 177.50,59.47 178.50,59.21 179.50,58.98 180.50,58.76 181.50,58.55 182.50,58.37 183.50,58.20 184.50,58.04 185.50,57.89 186.50,57.76 187.50,57.64 188.50,57.52 189.50,57.42" fill="none" stroke="#f09a20" stroke-width="1.4"/>
<polyline points="64.50,147.14 65.50,147.13 66.50,147.12 67.50,147.11 68.50,147.09 69.50,147.08 70.50,147.07 71.50,147.05 72.50,147.03 73.50,147.01 74.50,146.99 75.50,146.97 76.50,146.94 77.50,146.91 78.50,146.88 79.50,146.85 80.50,146.81 81.50,146.78 82.50,146.73 83.50,146.69 84.50,146.64 85.50,146.58 86.50,146.52 87.50,146.46 88.50,146.39 89.50,146.31 90.50,146.22 91.50,146.13 92.50,146.03 93.50,145.93 94.50,145.81 95.50,145.68 96.50,145.54 97.50,145.39 98.50,145.23 99.50,145.05 100.50,144.86 101.50,144.65 102.50,144.42 103.50,144.17 104.50,143.91 105.50,143.62 106.50,143.31 107.50,142.97 108.50,142.60 109.50,142.20 110.50,141.78 111.50,141.32 112.50,140.82 113.50,140.29 114.50,139.71 115.50,139.09 116.50,138.43 117.50,137.72 118.50,136.96 119.50,136.14 120.50,135.27 121.50,134.35 122.50,133.36 123.50,132.32 124.50,131.21 125.50,130.04 126.50,128.80 127.50,127.50 128.50,126.13 129.50,124.70 130.50,123.21 131.50,121.65 132.50,120.04 133.50,118.36 134.50,116.64 135.50,114.86 136.50,113.04 137.50,111.18 138.50,109.29 139.50,107.37 140.50,105.43 141.50,103.47 142.50,101.51 143.50,99.55 144.50,97.60 145.50,95.66 146.50,93.75 147.50,91.86 148.50,90.01 149.50,88.20 150.50,86.44 151.50,84.72 152.50,83.06 153.50,81.46 154.50,79.92 155.50,78.44 156.50,77.03 157.50,75.68 158.50,74.39 159.50,73.17 160.50,72.02 161.50,70.92 162.50,69.89 163.50,68.92 164.50,68.01 165.50,67.15 166.50,66.35 167.50,65.60 168.50,64.91 169.50,64.25 170.50,63.65 171.50,63.08 172.50,62.56 173.50,62.07 174.50,61.62 175.50,61.20 176.50,60.81 177.50,60.45 178.50,60.12 179.50,59.81 180.50,59.53 181.50,59.26 182.50,59.02 183.50,58.80 184.50,58.59 185.50,58.41 186.50,58.23 187.50,58.07 188.50,57.92 189.50,57.79" fill="none" stroke="#f09a20" stroke-width="1.4"/>
<polyline points="64.50,147.16 65.50,147.16 66.50,147.15 67.50,147.14 68.50,147.13 69.50,147.12 70.50,147.11 71.50,147.09 72.50,147.08 73.50,147.06 74.50,147.05 75.50,147.03 76.50,147.01 77.50,146.99 78.50,146.96 79.50,146.94 80.50,146.91 81.50,146.88 82.50,146.85 83.50,146.81 84.50,146.77 85.50,146.73 86.50,146.68 87.50,146.63 88.50,146.58 89.50,146.52 90.50,146.45 91.50,146.38 92.50,146.30 93.50,146.22 94.50,146.12 95.50,146.02 96.50,145.92 97.50,145.80 98.50,145.67 99.50,145.53 100.50,145.38 101.50,145.21 102.50,145.03 103.50,144.84 104.50,144.63 105.50,144.40 106.50,144.15 107.50,143.88 108.50,143.59 109.50,143.28 110.50,142.94 111.50,142.57 112.50,142.17 113.50,141.74 114.50,141.28 115.50,140.78 116.50,140.24 117.50,139.66 118.50,139.04 119.50,138.37 120.50,137.65 121.50,136.89 122.50,136.07 123.50,135.20 124.50,134.27 125.50,133.28 126.50,132.22 127.50,131.11 128.50,129.93 129.50,128.69 130.50,127.39 131.50,126.01 132.50,124.58 133.50,123.08 134.50,121.52 135.50,119.90 136.50,118.22 137.50,116.49 138.50,114.71 139.50,112.88 140.50,111.02 141.50,109.12 142.50,107.20 143.50,105.26 144.50,103.30 145.50,101.34 146.50,99.38 147.50,97.43 148.50,95.50 149.50,93.58 150.50,91.70 151.50,89.85 152.50,88.05 153.50,86.29 154.50,84.58 155.50,82.92 156.50,81.33 157.50,79.79 158.50,78.32 159.50,76.91 160.50,75.56 161.50,74.28 162.50,73.07 163.50,71.92 164.50,70.83 165.50,69.81 166.50,68.84 167.50,67.93 168.50,67.08 169.50,66.29 170.50,65.54 171.50,64.85 172.50,64.20 173.50,63.60 174.50,63.03 175.50,62.51 176.50,62.03 177.50,61.58 178.50,61.16 179.50,60.78 180.50,60.42 181.50,60.09 182.50,59.78 183.50,59.50 184.50,59.24 185.50,59.00 186.50,58.78 187.50,58.58 188.50,58.39 189.50,58.22" fill="none" stroke="#9a2440" stroke-width="1.1"/>
<line x1="64.50" y1="47.50" x2="64.50" y2="147.75" stroke="#1a1a1a" stroke-width="1.1" />
<line x1="64.00" y1="147.25" x2="189.50" y2="147.25" stroke="#1a1a1a" stroke-width="1.1" />
<line x1="60.50" y1="147.25" x2="64.50" y2="147.25" stroke="#1a1a1a" stroke-width="1.1" />
<text x="58.30" y="150.30" font-size="8.6" text-anchor="end" fill="#2a2a2a" font-weight="normal" letter-spacing="0.4">0</text>
<line x1="60.50" y1="124.50" x2="64.50" y2="124.50" stroke="#1a1a1a" stroke-width="1.1" />
<text x="58.30" y="127.55" font-size="8.6" text-anchor="end" fill="#2a2a2a" font-weight="normal" letter-spacing="0.4">25</text>
<line x1="60.50" y1="101.75" x2="64.50" y2="101.75" stroke="#1a1a1a" stroke-width="1.1" />
<text x="58.30" y="104.80" font-size="8.6" text-anchor="end" fill="#2a2a2a" font-weight="normal" letter-spacing="0.4">50</text>
<line x1="60.50" y1="79.00" x2="64.50" y2="79.00" stroke="#1a1a1a" stroke-width="1.1" />
<text x="58.30" y="82.05" font-size="8.6" text-anchor="end" fill="#2a2a2a" font-weight="normal" letter-spacing="0.4">75</text>
<line x1="60.50" y1="56.25" x2="64.50" y2="56.25" stroke="#1a1a1a" stroke-width="1.1" />
<text x="58.30" y="59.30" font-size="8.6" text-anchor="end" fill="#2a2a2a" font-weight="normal" letter-spacing="0.4">100</text>
<line x1="91.00" y1="147.25" x2="91.00" y2="150.75" stroke="#1a1a1a" stroke-width="1.1" />
<text x="91.20" y="162.05" font-size="8.6" text-anchor="middle" fill="#2a2a2a" font-weight="normal" letter-spacing="0.4">1</text>
<line x1="117.70" y1="147.25" x2="117.70" y2="150.75" stroke="#1a1a1a" stroke-width="1.1" />
<text x="117.90" y="162.05" font-size="8.6" text-anchor="middle" fill="#2a2a2a" font-weight="normal" letter-spacing="0.4">10</text>
<line x1="144.40" y1="147.25" x2="144.40" y2="150.75" stroke="#1a1a1a" stroke-width="1.1" />
<text x="144.60" y="162.05" font-size="8.6" text-anchor="middle" fill="#2a2a2a" font-weight="normal" letter-spacing="0.4">100</text>
<line x1="171.10" y1="147.25" x2="171.10" y2="150.75" stroke="#1a1a1a" stroke-width="1.1" />
<text x="171.30" y="162.05" font-size="8.6" text-anchor="middle" fill="#2a2a2a" font-weight="normal" letter-spacing="0.4">1000</text>
<text transform="translate(94.70,177.50) scale(0.58,1)" x="0" y="0" font-size="11.4" fill="#2a2a2a" class="lab" textLength="111.55" lengthAdjust="spacing">AZD4320 [24h, nM]</text>
<text transform="translate(36.56,95.95) rotate(-90) scale(0.69,1)" x="0" y="0" font-size="9.6" text-anchor="middle" fill="#2a2a2a" class="lab" textLength="105.65" lengthAdjust="spacing">Relative cell death [%]</text>
<line x1="200.00" y1="84.10" x2="210.20" y2="84.10" stroke="#5f9a66" stroke-width="1.3" />
<text x="213.70" y="87.15" font-size="8.6" text-anchor="start" fill="#2a2a2a" font-weight="normal" textLength="29.30" lengthAdjust="spacingAndGlyphs" >≤ 10 nM</text>
<line x1="200.00" y1="97.50" x2="210.20" y2="97.50" stroke="#e8a050" stroke-width="1.3" />
<text x="213.70" y="100.55" font-size="8.6" text-anchor="start" fill="#2a2a2a" font-weight="normal" textLength="51.30" lengthAdjust="spacingAndGlyphs" >10 - ≤ 100 nM</text>
<line x1="200.00" y1="110.60" x2="210.20" y2="110.60" stroke="#a83a5a" stroke-width="1.3" />
<text x="213.70" y="113.65" font-size="8.6" text-anchor="start" fill="#2a2a2a" font-weight="normal" textLength="34.10" lengthAdjust="spacingAndGlyphs" >&gt; 100 nM</text>
<text x="8.00" y="382.90" font-size="12.2" text-anchor="start" fill="#000" font-weight="bold" >E</text>
<line x1="64.60" y1="448.25" x2="190.00" y2="448.25" stroke="#a8a8a8" stroke-width="1.0" />
<polyline points="64.60,490.47 65.60,490.40 66.60,490.33 67.60,490.24 68.60,490.16 69.60,490.06 70.60,489.95 71.60,489.84 72.60,489.72 73.60,489.58 74.60,489.43 75.60,489.28 76.60,489.10 77.60,488.92 78.60,488.71 79.60,488.49 80.60,488.26 81.60,488.00 82.60,487.72 83.60,487.41 84.60,487.09 85.60,486.73 86.60,486.35 87.60,485.94 88.60,485.50 89.60,485.02 90.60,484.51 91.60,483.95 92.60,483.36 93.60,482.72 94.60,482.04 95.60,481.31 96.60,480.53 97.60,479.70 98.60,478.81 99.60,477.87 100.60,476.87 101.60,475.82 102.60,474.70 103.60,473.52 104.60,472.28 105.60,470.98 106.60,469.63 107.60,468.21 108.60,466.73 109.60,465.20 110.60,463.62 111.60,461.98 112.60,460.30 113.60,458.58 114.60,456.83 115.60,455.04 116.60,453.23 117.60,451.40 118.60,449.56 119.60,447.72 120.60,445.88 121.60,444.04 122.60,442.23 123.60,440.43 124.60,438.66 125.60,436.92 126.60,435.23 127.60,433.57 128.60,431.97 129.60,430.41 130.60,428.91 131.60,427.47 132.60,426.09 133.60,424.76 134.60,423.50 135.60,422.29 136.60,421.15 137.60,420.07 138.60,419.05 139.60,418.08 140.60,417.17 141.60,416.32 142.60,415.52 143.60,414.77 144.60,414.06 145.60,413.41 146.60,412.80 147.60,412.23 148.60,411.70 149.60,411.20 150.60,410.74 151.60,410.32 152.60,409.92 153.60,409.56 154.60,409.22 155.60,408.91 156.60,408.62 157.60,408.35 158.60,408.11 159.60,407.88 160.60,407.67 161.60,407.47 162.60,407.30 163.60,407.13 164.60,406.98 165.60,406.84 166.60,406.71 167.60,406.59 168.60,406.48 169.60,406.38 170.60,406.29 171.60,406.21 172.60,406.13 173.60,406.06 174.60,405.99 175.60,405.93 176.60,405.88 177.60,405.82 178.60,405.78 179.60,405.73 180.60,405.69 181.60,405.66 182.60,405.63 183.60,405.59 184.60,405.57 185.60,405.54 186.60,405.52 187.60,405.49 188.60,405.47 189.60,405.46" fill="none" stroke="#f0a020" stroke-width="1.35"/>
<polyline points="64.60,490.60 65.60,490.55 66.60,490.48 67.60,490.42 68.60,490.34 69.60,490.26 70.60,490.17 71.60,490.08 72.60,489.98 73.60,489.86 74.60,489.74 75.60,489.61 76.60,489.46 77.60,489.31 78.60,489.14 79.60,488.95 80.60,488.75 81.60,488.54 82.60,488.30 83.60,488.05 84.60,487.77 85.60,487.47 86.60,487.15 87.60,486.80 88.60,486.43 89.60,486.02 90.60,485.59 91.60,485.11 92.60,484.61 93.60,484.06 94.60,483.48 95.60,482.85 96.60,482.17 97.60,481.45 98.60,480.68 99.60,479.86 100.60,478.99 101.60,478.06 102.60,477.07 103.60,476.02 104.60,474.92 105.60,473.75 106.60,472.53 107.60,471.24 108.60,469.89 109.60,468.48 110.60,467.02 111.60,465.50 112.60,463.92 113.60,462.30 114.60,460.63 115.60,458.92 116.60,457.17 117.60,455.39 118.60,453.58 119.60,451.76 120.60,449.92 121.60,448.07 122.60,446.23 123.60,444.39 124.60,442.57 125.60,440.77 126.60,439.00 127.60,437.25 128.60,435.55 129.60,433.89 130.60,432.27 131.60,430.71 132.60,429.20 133.60,427.74 134.60,426.35 135.60,425.01 136.60,423.74 137.60,422.52 138.60,421.37 139.60,420.27 140.60,419.24 141.60,418.26 142.60,417.34 143.60,416.48 144.60,415.67 145.60,414.91 146.60,414.19 147.60,413.53 148.60,412.91 149.60,412.33 150.60,411.79 151.60,411.29 152.60,410.83 153.60,410.40 154.60,410.00 155.60,409.63 156.60,409.28 157.60,408.97 158.60,408.67 159.60,408.40 160.60,408.15 161.60,407.92 162.60,407.71 163.60,407.51 164.60,407.33 165.60,407.16 166.60,407.01 167.60,406.87 168.60,406.74 169.60,406.62 170.60,406.50 171.60,406.40 172.60,406.31 173.60,406.22 174.60,406.14 175.60,406.07 176.60,406.00 177.60,405.94 178.60,405.89 179.60,405.83 180.60,405.79 181.60,405.74 182.60,405.70 183.60,405.67 184.60,405.63 185.60,405.60 186.60,405.57 187.60,405.54 188.60,405.52 189.60,405.50" fill="none" stroke="#f0a020" stroke-width="1.35"/>
<polyline points="64.60,490.72 65.60,490.68 66.60,490.63 67.60,490.57 68.60,490.51 69.60,490.44 70.60,490.37 71.60,490.29 72.60,490.21 73.60,490.12 74.60,490.02 75.60,489.91 76.60,489.79 77.60,489.66 78.60,489.52 79.60,489.37 80.60,489.21 81.60,489.03 82.60,488.84 83.60,488.63 84.60,488.40 85.60,488.15 86.60,487.89 87.60,487.60 88.60,487.28 89.60,486.95 90.60,486.58 91.60,486.19 92.60,485.76 93.60,485.31 94.60,484.81 95.60,484.28 96.60,483.71 97.60,483.10 98.60,482.45 99.60,481.75 100.60,481.00 101.60,480.19 102.60,479.34 103.60,478.43 104.60,477.47 105.60,476.45 106.60,475.37 107.60,474.22 108.60,473.02 109.60,471.76 110.60,470.44 111.60,469.05 112.60,467.61 113.60,466.11 114.60,464.56 115.60,462.95 116.60,461.30 117.60,459.60 118.60,457.87 119.60,456.10 120.60,454.30 121.60,452.49 122.60,450.65 123.60,448.81 124.60,446.97 125.60,445.13 126.60,443.30 127.60,441.49 128.60,439.70 129.60,437.94 130.60,436.22 131.60,434.54 132.60,432.91 133.60,431.33 134.60,429.79 135.60,428.32 136.60,426.90 137.60,425.54 138.60,424.24 139.60,423.00 140.60,421.82 141.60,420.70 142.60,419.64 143.60,418.64 144.60,417.70 145.60,416.82 146.60,415.98 147.60,415.20 148.60,414.47 149.60,413.79 150.60,413.15 151.60,412.56 152.60,412.00 153.60,411.49 154.60,411.01 155.60,410.57 156.60,410.15 157.60,409.77 158.60,409.42 159.60,409.09 160.60,408.79 161.60,408.51 162.60,408.25 163.60,408.01 164.60,407.79 165.60,407.59 166.60,407.40 167.60,407.23 168.60,407.07 169.60,406.92 170.60,406.79 171.60,406.66 172.60,406.55 173.60,406.44 174.60,406.35 175.60,406.26 176.60,406.17 177.60,406.10 178.60,406.03 179.60,405.97 180.60,405.91 181.60,405.85 182.60,405.80 183.60,405.76 184.60,405.72 185.60,405.68 186.60,405.64 187.60,405.61 188.60,405.58 189.60,405.56" fill="none" stroke="#f0a020" stroke-width="1.35"/>
<polyline points="64.60,490.82 65.60,490.78 66.60,490.74 67.60,490.70 68.60,490.65 69.60,490.59 70.60,490.54 71.60,490.47 72.60,490.40 73.60,490.33 74.60,490.25 75.60,490.16 76.60,490.06 77.60,489.96 78.60,489.84 79.60,489.72 80.60,489.59 81.60,489.44 82.60,489.28 83.60,489.11 84.60,488.92 85.60,488.72 86.60,488.50 87.60,488.26 88.60,488.00 89.60,487.73 90.60,487.42 91.60,487.10 92.60,486.74 93.60,486.36 94.60,485.95 95.60,485.51 96.60,485.03 97.60,484.52 98.60,483.97 99.60,483.37 100.60,482.74 101.60,482.06 102.60,481.33 103.60,480.55 104.60,479.72 105.60,478.84 106.60,477.90 107.60,476.90 108.60,475.85 109.60,474.73 110.60,473.55 111.60,472.32 112.60,471.02 113.60,469.66 114.60,468.25 115.60,466.77 116.60,465.24 117.60,463.66 118.60,462.03 119.60,460.35 120.60,458.63 121.60,456.88 122.60,455.09 123.60,453.28 124.60,451.45 125.60,449.61 126.60,447.77 127.60,445.93 128.60,444.09 129.60,442.27 130.60,440.48 131.60,438.71 132.60,436.97 133.60,435.27 134.60,433.62 135.60,432.01 136.60,430.46 137.60,428.95 138.60,427.51 139.60,426.12 140.60,424.80 141.60,423.53 142.60,422.33 143.60,421.18 144.60,420.10 145.60,419.07 146.60,418.11 147.60,417.20 148.60,416.34 149.60,415.54 150.60,414.79 151.60,414.08 152.60,413.42 153.60,412.81 154.60,412.24 155.60,411.71 156.60,411.21 157.60,410.76 158.60,410.33 159.60,409.93 160.60,409.57 161.60,409.23 162.60,408.92 163.60,408.63 164.60,408.36 165.60,408.11 166.60,407.88 167.60,407.67 168.60,407.48 169.60,407.30 170.60,407.14 171.60,406.98 172.60,406.84 173.60,406.71 174.60,406.60 175.60,406.49 176.60,406.39 177.60,406.29 178.60,406.21 179.60,406.13 180.60,406.06 181.60,405.99 182.60,405.93 183.60,405.88 184.60,405.83 185.60,405.78 186.60,405.74 187.60,405.70 188.60,405.66 189.60,405.63" fill="none" stroke="#f0a020" stroke-width="1.35"/>
<polyline points="64.60,491.01 65.60,490.99 66.60,490.97 67.60,490.94 68.60,490.91 69.60,490.88 70.60,490.85 71.60,490.82 72.60,490.78 73.60,490.73 74.60,490.69 75.60,490.64 76.60,490.58 77.60,490.53 78.60,490.46 79.60,490.39 80.60,490.32 81.60,490.23 82.60,490.14 83.60,490.05 84.60,489.94 85.60,489.82 86.60,489.70 87.60,489.56 88.60,489.41 89.60,489.25 90.60,489.08 91.60,488.89 92.60,488.68 93.60,488.46 94.60,488.22 95.60,487.96 96.60,487.68 97.60,487.37 98.60,487.04 99.60,486.68 100.60,486.30 101.60,485.88 102.60,485.43 103.60,484.95 104.60,484.43 105.60,483.87 106.60,483.27 107.60,482.63 108.60,481.94 109.60,481.20 110.60,480.41 111.60,479.58 112.60,478.68 113.60,477.73 114.60,476.73 115.60,475.66 116.60,474.54 117.60,473.35 118.60,472.10 119.60,470.80 120.60,469.43 121.60,468.00 122.60,466.52 123.60,464.98 124.60,463.39 125.60,461.75 126.60,460.06 127.60,458.34 128.60,456.58 129.60,454.79 130.60,452.98 131.60,451.14 132.60,449.30 133.60,447.46 134.60,445.62 135.60,443.79 136.60,441.97 137.60,440.18 138.60,438.41 139.60,436.68 140.60,434.99 141.60,433.34 142.60,431.75 143.60,430.20 144.60,428.71 145.60,427.27 146.60,425.90 147.60,424.58 148.60,423.32 149.60,422.13 150.60,421.00 151.60,419.92 152.60,418.91 153.60,417.95 154.60,417.05 155.60,416.20 156.60,415.41 157.60,414.66 158.60,413.97 159.60,413.32 160.60,412.71 161.60,412.15 162.60,411.62 163.60,411.13 164.60,410.68 165.60,410.26 166.60,409.87 167.60,409.51 168.60,409.18 169.60,408.87 170.60,408.58 171.60,408.32 172.60,408.07 173.60,407.85 174.60,407.64 175.60,407.45 176.60,407.27 177.60,407.11 178.60,406.96 179.60,406.82 180.60,406.69 181.60,406.58 182.60,406.47 183.60,406.37 184.60,406.28 185.60,406.20 186.60,406.12 187.60,406.05 188.60,405.98 189.60,405.92" fill="none" stroke="#f0a020" stroke-width="1.35"/>
<polyline points="64.60,491.07 65.60,491.05 66.60,491.03 67.60,491.01 68.60,490.99 69.60,490.97 70.60,490.94 71.60,490.92 72.60,490.89 73.60,490.86 74.60,490.82 75.60,490.78 76.60,490.74 77.60,490.69 78.60,490.65 79.60,490.59 80.60,490.53 81.60,490.47 82.60,490.40 83.60,490.33 84.60,490.24 85.60,490.15 86.60,490.06 87.60,489.95 88.60,489.84 89.60,489.71 90.60,489.58 91.60,489.43 92.60,489.27 93.60,489.10 94.60,488.91 95.60,488.71 96.60,488.49 97.60,488.25 98.60,487.99 99.60,487.71 100.60,487.41 101.60,487.08 102.60,486.73 103.60,486.34 104.60,485.93 105.60,485.49 106.60,485.01 107.60,484.49 108.60,483.94 109.60,483.35 110.60,482.71 111.60,482.02 112.60,481.29 113.60,480.51 114.60,479.68 115.60,478.79 116.60,477.85 117.60,476.85 118.60,475.79 119.60,474.68 120.60,473.50 121.60,472.26 122.60,470.96 123.60,469.60 124.60,468.18 125.60,466.70 126.60,465.17 127.60,463.58 128.60,461.95 129.60,460.27 130.60,458.55 131.60,456.79 132.60,455.01 133.60,453.20 134.60,451.37 135.60,449.53 136.60,447.68 137.60,445.84 138.60,444.01 139.60,442.19 140.60,440.39 141.60,438.62 142.60,436.89 143.60,435.19 144.60,433.54 145.60,431.94 146.60,430.38 147.60,428.88 148.60,427.44 149.60,426.06 150.60,424.74 151.60,423.47 152.60,422.27 153.60,421.13 154.60,420.05 155.60,419.03 156.60,418.06 157.60,417.15 158.60,416.30 159.60,415.50 160.60,414.75 161.60,414.05 162.60,413.39 163.60,412.78 164.60,412.21 165.60,411.68 166.60,411.19 167.60,410.73 168.60,410.31 169.60,409.92 170.60,409.55 171.60,409.21 172.60,408.90 173.60,408.61 174.60,408.35 175.60,408.10 176.60,407.87 177.60,407.66 178.60,407.47 179.60,407.29 180.60,407.13 181.60,406.98 182.60,406.84 183.60,406.71 184.60,406.59 185.60,406.48 186.60,406.38 187.60,406.29 188.60,406.21 189.60,406.13" fill="none" stroke="#f0a020" stroke-width="1.35"/>
<polyline points="64.60,491.10 65.60,491.09 66.60,491.07 67.60,491.06 68.60,491.04 69.60,491.02 70.60,491.00 71.60,490.98 72.60,490.95 73.60,490.93 74.60,490.90 75.60,490.86 76.60,490.83 77.60,490.79 78.60,490.75 79.60,490.71 80.60,490.66 81.60,490.61 82.60,490.55 83.60,490.49 84.60,490.42 85.60,490.35 86.60,490.27 87.60,490.18 88.60,490.09 89.60,489.98 90.60,489.87 91.60,489.75 92.60,489.62 93.60,489.48 94.60,489.32 95.60,489.15 96.60,488.97 97.60,488.77 98.60,488.55 99.60,488.32 100.60,488.07 101.60,487.79 102.60,487.50 103.60,487.18 104.60,486.83 105.60,486.46 106.60,486.05 107.60,485.62 108.60,485.15 109.60,484.65 110.60,484.10 111.60,483.52 112.60,482.90 113.60,482.23 114.60,481.51 115.60,480.74 116.60,479.92 117.60,479.05 118.60,478.13 119.60,477.14 120.60,476.10 121.60,475.00 122.60,473.84 123.60,472.62 124.60,471.34 125.60,469.99 126.60,468.59 127.60,467.13 128.60,465.61 129.60,464.04 130.60,462.42 131.60,460.76 132.60,459.05 133.60,457.30 134.60,455.52 135.60,453.72 136.60,451.89 137.60,450.06 138.60,448.21 139.60,446.37 140.60,444.53 141.60,442.71 142.60,440.91 143.60,439.13 144.60,437.38 145.60,435.68 146.60,434.01 147.60,432.39 148.60,430.82 149.60,429.31 150.60,427.85 151.60,426.45 152.60,425.11 153.60,423.83 154.60,422.61 155.60,421.45 156.60,420.35 157.60,419.31 158.60,418.33 159.60,417.41 160.60,416.54 161.60,415.73 162.60,414.96 163.60,414.25 164.60,413.58 165.60,412.95 166.60,412.37 167.60,411.83 168.60,411.33 169.60,410.86 170.60,410.43 171.60,410.03 172.60,409.65 173.60,409.31 174.60,408.99 175.60,408.69 176.60,408.42 177.60,408.17 178.60,407.94 179.60,407.72 180.60,407.52 181.60,407.34 182.60,407.17 183.60,407.02 184.60,406.88 185.60,406.74 186.60,406.62 187.60,406.51 188.60,406.41 189.60,406.32" fill="none" stroke="#f0a020" stroke-width="1.35"/>
<polyline points="64.60,491.13 65.60,491.12 66.60,491.10 67.60,491.09 68.60,491.08 69.60,491.06 70.60,491.04 71.60,491.02 72.60,491.00 73.60,490.98 74.60,490.96 75.60,490.93 76.60,490.90 77.60,490.87 78.60,490.84 79.60,490.80 80.60,490.76 81.60,490.72 82.60,490.67 83.60,490.62 84.60,490.57 85.60,490.50 86.60,490.44 87.60,490.37 88.60,490.29 89.60,490.20 90.60,490.11 91.60,490.01 92.60,489.90 93.60,489.78 94.60,489.65 95.60,489.51 96.60,489.36 97.60,489.19 98.60,489.01 99.60,488.82 100.60,488.61 101.60,488.38 102.60,488.13 103.60,487.86 104.60,487.57 105.60,487.26 106.60,486.92 107.60,486.55 108.60,486.16 109.60,485.73 110.60,485.27 111.60,484.78 112.60,484.24 113.60,483.67 114.60,483.06 115.60,482.40 116.60,481.69 117.60,480.94 118.60,480.13 119.60,479.28 120.60,478.36 121.60,477.39 122.60,476.37 123.60,475.28 124.60,474.14 125.60,472.93 126.60,471.66 127.60,470.33 128.60,468.95 129.60,467.50 130.60,466.00 131.60,464.44 132.60,462.83 133.60,461.17 134.60,459.48 135.60,457.74 136.60,455.97 137.60,454.17 138.60,452.35 139.60,450.51 140.60,448.67 141.60,446.83 142.60,444.99 143.60,443.16 144.60,441.35 145.60,439.57 146.60,437.81 147.60,436.10 148.60,434.42 149.60,432.79 150.60,431.21 151.60,429.68 152.60,428.21 153.60,426.79 154.60,425.44 155.60,424.14 156.60,422.91 157.60,421.73 158.60,420.62 159.60,419.57 160.60,418.57 161.60,417.63 162.60,416.75 163.60,415.92 164.60,415.15 165.60,414.42 166.60,413.74 167.60,413.11 168.60,412.51 169.60,411.96 170.60,411.45 171.60,410.98 172.60,410.53 173.60,410.12 174.60,409.74 175.60,409.39 176.60,409.07 177.60,408.77 178.60,408.49 179.60,408.23 180.60,407.99 181.60,407.77 182.60,407.57 183.60,407.39 184.60,407.21 185.60,407.06 186.60,406.91 187.60,406.78 188.60,406.65 189.60,406.54" fill="none" stroke="#f0a020" stroke-width="1.35"/>
<polyline points="64.60,491.20 65.60,491.19 66.60,491.19 67.60,491.18 68.60,491.18 69.60,491.17 70.60,491.16 71.60,491.15 72.60,491.14 73.60,491.14 74.60,491.13 75.60,491.11 76.60,491.10 77.60,491.09 78.60,491.07 79.60,491.06 80.60,491.04 81.60,491.02 82.60,491.00 83.60,490.98 84.60,490.96 85.60,490.93 86.60,490.90 87.60,490.87 88.60,490.84 89.60,490.80 90.60,490.76 91.60,490.72 92.60,490.67 93.60,490.62 94.60,490.56 95.60,490.50 96.60,490.43 97.60,490.36 98.60,490.28 99.60,490.19 100.60,490.10 101.60,490.00 102.60,489.89 103.60,489.77 104.60,489.64 105.60,489.50 106.60,489.34 107.60,489.18 108.60,489.00 109.60,488.80 110.60,488.59 111.60,488.36 112.60,488.11 113.60,487.84 114.60,487.55 115.60,487.23 116.60,486.89 117.60,486.52 118.60,486.12 119.60,485.69 120.60,485.23 121.60,484.73 122.60,484.19 123.60,483.61 124.60,483.00 125.60,482.33 126.60,481.62 127.60,480.87 128.60,480.06 129.60,479.19 130.60,478.28 131.60,477.30 132.60,476.27 133.60,475.18 134.60,474.03 135.60,472.82 136.60,471.54 137.60,470.21 138.60,468.82 139.60,467.36 140.60,465.86 141.60,464.29 142.60,462.68 143.60,461.02 144.60,459.32 145.60,457.58 146.60,455.80 147.60,454.00 148.60,452.18 149.60,450.35 150.60,448.50 151.60,446.66 152.60,444.82 153.60,442.99 154.60,441.19 155.60,439.41 156.60,437.66 157.60,435.94 158.60,434.27 159.60,432.64 160.60,431.07 161.60,429.54 162.60,428.08 163.60,426.67 164.60,425.32 165.60,424.03 166.60,422.80 167.60,421.63 168.60,420.52 169.60,419.47 170.60,418.48 171.60,417.55 172.60,416.67 173.60,415.85 174.60,415.08 175.60,414.36 176.60,413.68 177.60,413.05 178.60,412.46 179.60,411.92 180.60,411.41 181.60,410.93 182.60,410.49 183.60,410.09 184.60,409.71 185.60,409.36 186.60,409.04 187.60,408.74 188.60,408.46 189.60,408.21" fill="none" stroke="#c8102e" stroke-width="1.45"/>
<polyline points="64.60,491.22 65.60,491.21 66.60,491.21 67.60,491.21 68.60,491.20 69.60,491.20 70.60,491.20 71.60,491.19 72.60,491.19 73.60,491.18 74.60,491.17 75.60,491.17 76.60,491.16 77.60,491.15 78.60,491.14 79.60,491.13 80.60,491.12 81.60,491.11 82.60,491.10 83.60,491.08 84.60,491.07 85.60,491.05 86.60,491.03 87.60,491.02 88.60,490.99 89.60,490.97 90.60,490.95 91.60,490.92 92.60,490.89 93.60,490.86 94.60,490.82 95.60,490.79 96.60,490.74 97.60,490.70 98.60,490.65 99.60,490.60 100.60,490.54 101.60,490.47 102.60,490.41 103.60,490.33 104.60,490.25 105.60,490.16 106.60,490.07 107.60,489.96 108.60,489.85 109.60,489.72 110.60,489.59 111.60,489.44 112.60,489.29 113.60,489.11 114.60,488.93 115.60,488.73 116.60,488.51 117.60,488.27 118.60,488.01 119.60,487.73 120.60,487.43 121.60,487.11 122.60,486.76 123.60,486.38 124.60,485.97 125.60,485.53 126.60,485.05 127.60,484.54 128.60,483.99 129.60,483.40 130.60,482.76 131.60,482.08 132.60,481.35 133.60,480.58 134.60,479.75 135.60,478.87 136.60,477.93 137.60,476.94 138.60,475.88 139.60,474.77 140.60,473.60 141.60,472.36 142.60,471.07 143.60,469.71 144.60,468.29 145.60,466.82 146.60,465.29 147.60,463.71 148.60,462.08 149.60,460.41 150.60,458.69 151.60,456.94 152.60,455.15 153.60,453.34 154.60,451.52 155.60,449.68 156.60,447.83 157.60,445.99 158.60,444.16 159.60,442.34 160.60,440.54 161.60,438.77 162.60,437.03 163.60,435.33 164.60,433.67 165.60,432.06 166.60,430.51 167.60,429.00 168.60,427.56 169.60,426.17 170.60,424.84 171.60,423.57 172.60,422.37 173.60,421.22 174.60,420.13 175.60,419.11 176.60,418.14 177.60,417.23 178.60,416.37 179.60,415.56 180.60,414.81 181.60,414.11 182.60,413.45 183.60,412.83 184.60,412.26 185.60,411.73 186.60,411.23 187.60,410.77 188.60,410.34 189.60,409.95" fill="none" stroke="#c8102e" stroke-width="1.45"/>
<polyline points="64.60,491.23 65.60,491.23 66.60,491.22 67.60,491.22 68.60,491.22 69.60,491.22 70.60,491.21 71.60,491.21 72.60,491.21 73.60,491.20 74.60,491.20 75.60,491.19 76.60,491.19 77.60,491.18 78.60,491.17 79.60,491.17 80.60,491.16 81.60,491.15 82.60,491.14 83.60,491.13 84.60,491.12 85.60,491.11 86.60,491.10 87.60,491.09 88.60,491.07 89.60,491.06 90.60,491.04 91.60,491.02 92.60,491.00 93.60,490.98 94.60,490.95 95.60,490.93 96.60,490.90 97.60,490.87 98.60,490.83 99.60,490.80 100.60,490.76 101.60,490.71 102.60,490.66 103.60,490.61 104.60,490.56 105.60,490.49 106.60,490.43 107.60,490.35 108.60,490.27 109.60,490.19 110.60,490.09 111.60,489.99 112.60,489.88 113.60,489.76 114.60,489.63 115.60,489.49 116.60,489.33 117.60,489.16 118.60,488.98 119.60,488.79 120.60,488.57 121.60,488.34 122.60,488.09 123.60,487.82 124.60,487.52 125.60,487.20 126.60,486.86 127.60,486.49 128.60,486.09 129.60,485.65 130.60,485.19 131.60,484.69 132.60,484.15 133.60,483.57 134.60,482.95 135.60,482.28 136.60,481.57 137.60,480.80 138.60,479.99 139.60,479.12 140.60,478.20 141.60,477.22 142.60,476.19 143.60,475.09 144.60,473.94 145.60,472.72 146.60,471.44 147.60,470.10 148.60,468.70 149.60,467.25 150.60,465.74 151.60,464.17 152.60,462.55 153.60,460.89 154.60,459.18 155.60,457.44 156.60,455.66 157.60,453.86 158.60,452.04 159.60,450.20 160.60,448.36 161.60,446.51 162.60,444.68 163.60,442.85 164.60,441.05 165.60,439.27 166.60,437.52 167.60,435.81 168.60,434.14 169.60,432.52 170.60,430.95 171.60,429.43 172.60,427.96 173.60,426.56 174.60,425.21 175.60,423.93 176.60,422.70 177.60,421.54 178.60,420.44 179.60,419.39 180.60,418.41 181.60,417.48 182.60,416.61 183.60,415.79 184.60,415.02 185.60,414.30 186.60,413.63 187.60,413.00 188.60,412.42 189.60,411.87" fill="none" stroke="#c8102e" stroke-width="1.45"/>
<polyline points="64.60,491.23 65.60,491.23 66.60,491.23 67.60,491.23 68.60,491.23 69.60,491.23 70.60,491.22 71.60,491.22 72.60,491.22 73.60,491.22 74.60,491.21 75.60,491.21 76.60,491.21 77.60,491.20 78.60,491.20 79.60,491.20 80.60,491.19 81.60,491.19 82.60,491.18 83.60,491.17 84.60,491.17 85.60,491.16 86.60,491.15 87.60,491.14 88.60,491.13 89.60,491.12 90.60,491.11 91.60,491.10 92.60,491.08 93.60,491.07 94.60,491.05 95.60,491.04 96.60,491.02 97.60,491.00 98.60,490.97 99.60,490.95 100.60,490.92 101.60,490.89 102.60,490.86 103.60,490.82 104.60,490.79 105.60,490.75 106.60,490.70 107.60,490.65 108.60,490.60 109.60,490.54 110.60,490.48 111.60,490.41 112.60,490.33 113.60,490.25 114.60,490.17 115.60,490.07 116.60,489.97 117.60,489.85 118.60,489.73 119.60,489.60 120.60,489.45 121.60,489.29 122.60,489.12 123.60,488.94 124.60,488.73 125.60,488.52 126.60,488.28 127.60,488.02 128.60,487.75 129.60,487.45 130.60,487.12 131.60,486.77 132.60,486.39 133.60,485.98 134.60,485.54 135.60,485.07 136.60,484.56 137.60,484.01 138.60,483.42 139.60,482.79 140.60,482.11 141.60,481.38 142.60,480.61 143.60,479.78 144.60,478.90 145.60,477.97 146.60,476.98 147.60,475.92 148.60,474.81 149.60,473.64 150.60,472.41 151.60,471.12 152.60,469.76 153.60,468.35 154.60,466.88 155.60,465.36 156.60,463.78 157.60,462.15 158.60,460.47 159.60,458.76 160.60,457.01 161.60,455.22 162.60,453.41 163.60,451.59 164.60,449.75 165.60,447.91 166.60,446.06 167.60,444.23 168.60,442.41 169.60,440.61 170.60,438.84 171.60,437.10 172.60,435.40 173.60,433.74 174.60,432.13 175.60,430.57 176.60,429.06 177.60,427.61 178.60,426.22 179.60,424.89 180.60,423.62 181.60,422.41 182.60,421.26 183.60,420.18 184.60,419.15 185.60,418.18 186.60,417.26 187.60,416.40 188.60,415.59 189.60,414.84" fill="none" stroke="#c8102e" stroke-width="1.45"/>
<polyline points="64.60,491.24 65.60,491.24 66.60,491.24 67.60,491.24 68.60,491.24 69.60,491.24 70.60,491.23 71.60,491.23 72.60,491.23 73.60,491.23 74.60,491.23 75.60,491.23 76.60,491.22 77.60,491.22 78.60,491.22 79.60,491.22 80.60,491.21 81.60,491.21 82.60,491.21 83.60,491.20 84.60,491.20 85.60,491.19 86.60,491.19 87.60,491.18 88.60,491.18 89.60,491.17 90.60,491.16 91.60,491.16 92.60,491.15 93.60,491.14 94.60,491.13 95.60,491.12 96.60,491.10 97.60,491.09 98.60,491.08 99.60,491.06 100.60,491.04 101.60,491.03 102.60,491.01 103.60,490.98 104.60,490.96 105.60,490.94 106.60,490.91 107.60,490.88 108.60,490.84 109.60,490.81 110.60,490.77 111.60,490.72 112.60,490.68 113.60,490.63 114.60,490.57 115.60,490.51 116.60,490.45 117.60,490.37 118.60,490.30 119.60,490.21 120.60,490.12 121.60,490.02 122.60,489.91 123.60,489.79 124.60,489.67 125.60,489.53 126.60,489.38 127.60,489.21 128.60,489.03 129.60,488.84 130.60,488.63 131.60,488.40 132.60,488.16 133.60,487.89 134.60,487.60 135.60,487.29 136.60,486.96 137.60,486.59 138.60,486.20 139.60,485.78 140.60,485.32 141.60,484.83 142.60,484.30 143.60,483.73 144.60,483.12 145.60,482.47 146.60,481.77 147.60,481.02 148.60,480.22 149.60,479.37 150.60,478.46 151.60,477.50 152.60,476.48 153.60,475.40 154.60,474.26 155.60,473.06 156.60,471.79 157.60,470.47 158.60,469.09 159.60,467.65 160.60,466.15 161.60,464.60 162.60,463.00 163.60,461.35 164.60,459.65 165.60,457.92 166.60,456.15 167.60,454.35 168.60,452.54 169.60,450.70 170.60,448.86 171.60,447.02 172.60,445.18 173.60,443.35 174.60,441.54 175.60,439.75 176.60,437.99 177.60,436.27 178.60,434.59 179.60,432.96 180.60,431.37 181.60,429.84 182.60,428.36 183.60,426.94 184.60,425.57 185.60,424.27 186.60,423.03 187.60,421.85 188.60,420.73 189.60,419.67" fill="none" stroke="#c8102e" stroke-width="1.45"/>
<polyline points="64.60,491.21 65.60,491.21 66.60,491.20 67.60,491.20 68.60,491.19 69.60,491.19 70.60,491.18 71.60,491.18 72.60,491.17 73.60,491.17 74.60,491.16 75.60,491.15 76.60,491.14 77.60,491.13 78.60,491.12 79.60,491.11 80.60,491.10 81.60,491.08 82.60,491.07 83.60,491.05 84.60,491.03 85.60,491.01 86.60,490.99 87.60,490.97 88.60,490.94 89.60,490.92 90.60,490.89 91.60,490.85 92.60,490.82 93.60,490.78 94.60,490.74 95.60,490.69 96.60,490.64 97.60,490.59 98.60,490.53 99.60,490.47 100.60,490.40 101.60,490.32 102.60,490.24 103.60,490.15 104.60,490.06 105.60,489.95 106.60,489.84 107.60,489.71 108.60,489.58 109.60,489.43 110.60,489.27 111.60,489.10 112.60,488.91 113.60,488.71 114.60,488.48 115.60,488.25 116.60,487.99 117.60,487.71 118.60,487.40 119.60,487.07 120.60,486.72 121.60,486.34 122.60,485.92 123.60,485.48 124.60,485.00 125.60,484.48 126.60,483.93 127.60,483.33 128.60,482.70 129.60,482.01 130.60,481.28 131.60,480.50 132.60,479.66 133.60,478.78 134.60,477.83 135.60,476.83 136.60,475.77 137.60,474.65 138.60,473.47 139.60,472.23 140.60,470.93 141.60,469.57 142.60,468.15 143.60,466.67 144.60,465.14 145.60,463.55 146.60,461.92 147.60,460.24 148.60,458.52 149.60,456.76 150.60,454.97 151.60,453.16 152.60,451.33 153.60,449.49 154.60,447.65 155.60,445.81 156.60,443.97 157.60,442.16 158.60,440.36 159.60,438.59 160.60,436.86 161.60,435.16 162.60,433.51 163.60,431.91 164.60,430.36 165.60,428.86 166.60,427.42 167.60,426.03 168.60,424.71 169.60,423.45 170.60,422.25 171.60,421.11 172.60,420.03 173.60,419.01 174.60,418.05 175.60,417.14 176.60,416.29 177.60,415.49 178.60,414.74 179.60,414.04 180.60,413.38 181.60,412.77 182.60,412.20 183.60,411.68 184.60,411.18 185.60,410.73 186.60,410.30 187.60,409.91 188.60,409.55 189.60,409.21" fill="none" stroke="#a81c3c" stroke-width="1.3"/>
<polyline points="64.60,491.22 65.60,491.22 66.60,491.22 67.60,491.21 68.60,491.21 69.60,491.21 70.60,491.20 71.60,491.20 72.60,491.20 73.60,491.19 74.60,491.19 75.60,491.18 76.60,491.17 77.60,491.17 78.60,491.16 79.60,491.15 80.60,491.14 81.60,491.13 82.60,491.12 83.60,491.11 84.60,491.10 85.60,491.08 86.60,491.07 87.60,491.05 88.60,491.04 89.60,491.02 90.60,491.00 91.60,490.97 92.60,490.95 93.60,490.92 94.60,490.89 95.60,490.86 96.60,490.83 97.60,490.79 98.60,490.75 99.60,490.70 100.60,490.65 101.60,490.60 102.60,490.54 103.60,490.48 104.60,490.41 105.60,490.34 106.60,490.26 107.60,490.17 108.60,490.08 109.60,489.97 110.60,489.86 111.60,489.74 112.60,489.60 113.60,489.46 114.60,489.30 115.60,489.13 116.60,488.95 117.60,488.75 118.60,488.53 119.60,488.29 120.60,488.04 121.60,487.76 122.60,487.46 123.60,487.14 124.60,486.79 125.60,486.42 126.60,486.01 127.60,485.57 128.60,485.10 129.60,484.59 130.60,484.04 131.60,483.45 132.60,482.82 133.60,482.15 134.60,481.43 135.60,480.66 136.60,479.83 137.60,478.96 138.60,478.02 139.60,477.03 140.60,475.99 141.60,474.88 142.60,473.71 143.60,472.48 144.60,471.19 145.60,469.84 146.60,468.43 147.60,466.97 148.60,465.44 149.60,463.87 150.60,462.24 151.60,460.57 152.60,458.86 153.60,457.11 154.60,455.33 155.60,453.52 156.60,451.69 157.60,449.86 158.60,448.01 159.60,446.17 160.60,444.33 161.60,442.51 162.60,440.71 163.60,438.94 164.60,437.20 165.60,435.49 166.60,433.83 167.60,432.22 168.60,430.66 169.60,429.15 170.60,427.70 171.60,426.30 172.60,424.97 173.60,423.69 174.60,422.48 175.60,421.33 176.60,420.24 177.60,419.20 178.60,418.23 179.60,417.31 180.60,416.45 181.60,415.64 182.60,414.88 183.60,414.17 184.60,413.51 185.60,412.89 186.60,412.31 187.60,411.78 188.60,411.28 189.60,410.81" fill="none" stroke="#a81c3c" stroke-width="1.3"/>
<polyline points="64.60,491.23 65.60,491.23 66.60,491.23 67.60,491.23 68.60,491.22 69.60,491.22 70.60,491.22 71.60,491.22 72.60,491.21 73.60,491.21 74.60,491.21 75.60,491.20 76.60,491.20 77.60,491.19 78.60,491.19 79.60,491.18 80.60,491.18 81.60,491.17 82.60,491.16 83.60,491.16 84.60,491.15 85.60,491.14 86.60,491.13 87.60,491.12 88.60,491.11 89.60,491.10 90.60,491.08 91.60,491.07 92.60,491.05 93.60,491.03 94.60,491.01 95.60,490.99 96.60,490.97 97.60,490.94 98.60,490.92 99.60,490.89 100.60,490.85 101.60,490.82 102.60,490.78 103.60,490.74 104.60,490.69 105.60,490.64 106.60,490.59 107.60,490.53 108.60,490.46 109.60,490.40 110.60,490.32 111.60,490.24 112.60,490.15 113.60,490.05 114.60,489.94 115.60,489.83 116.60,489.70 117.60,489.57 118.60,489.42 119.60,489.26 120.60,489.09 121.60,488.90 122.60,488.69 123.60,488.47 124.60,488.23 125.60,487.97 126.60,487.69 127.60,487.39 128.60,487.06 129.60,486.70 130.60,486.32 131.60,485.90 132.60,485.45 133.60,484.97 134.60,484.45 135.60,483.90 136.60,483.30 137.60,482.66 138.60,481.97 139.60,481.24 140.60,480.45 141.60,479.62 142.60,478.73 143.60,477.78 144.60,476.78 145.60,475.71 146.60,474.59 147.60,473.41 148.60,472.16 149.60,470.86 150.60,469.49 151.60,468.07 152.60,466.59 153.60,465.05 154.60,463.46 155.60,461.83 156.60,460.14 157.60,458.42 158.60,456.66 159.60,454.87 160.60,453.06 161.60,451.23 162.60,449.39 163.60,447.55 164.60,445.70 165.60,443.87 166.60,442.06 167.60,440.26 168.60,438.49 169.60,436.76 170.60,435.07 171.60,433.42 172.60,431.82 173.60,430.27 174.60,428.78 175.60,427.34 176.60,425.96 177.60,424.64 178.60,423.38 179.60,422.18 180.60,421.05 181.60,419.97 182.60,418.95 183.60,417.99 184.60,417.09 185.60,416.24 186.60,415.44 187.60,414.70 188.60,414.00 189.60,413.35" fill="none" stroke="#a81c3c" stroke-width="1.3"/>
<polyline points="64.60,491.24 65.60,491.24 66.60,491.24 67.60,491.23 68.60,491.23 69.60,491.23 70.60,491.23 71.60,491.23 72.60,491.23 73.60,491.22 74.60,491.22 75.60,491.22 76.60,491.22 77.60,491.21 78.60,491.21 79.60,491.21 80.60,491.20 81.60,491.20 82.60,491.19 83.60,491.19 84.60,491.18 85.60,491.18 86.60,491.17 87.60,491.16 88.60,491.15 89.60,491.15 90.60,491.14 91.60,491.13 92.60,491.12 93.60,491.10 94.60,491.09 95.60,491.08 96.60,491.06 97.60,491.04 98.60,491.03 99.60,491.01 100.60,490.98 101.60,490.96 102.60,490.93 103.60,490.91 104.60,490.88 105.60,490.84 106.60,490.81 107.60,490.77 108.60,490.72 109.60,490.68 110.60,490.62 111.60,490.57 112.60,490.51 113.60,490.44 114.60,490.37 115.60,490.29 116.60,490.21 117.60,490.12 118.60,490.02 119.60,489.91 120.60,489.79 121.60,489.66 122.60,489.52 123.60,489.37 124.60,489.21 125.60,489.03 126.60,488.83 127.60,488.62 128.60,488.40 129.60,488.15 130.60,487.88 131.60,487.59 132.60,487.28 133.60,486.94 134.60,486.58 135.60,486.19 136.60,485.76 137.60,485.30 138.60,484.81 139.60,484.28 140.60,483.71 141.60,483.10 142.60,482.44 143.60,481.74 144.60,480.99 145.60,480.19 146.60,479.34 147.60,478.43 148.60,477.46 149.60,476.44 150.60,475.36 151.60,474.22 152.60,473.01 153.60,471.75 154.60,470.43 155.60,469.04 156.60,467.60 157.60,466.10 158.60,464.55 159.60,462.94 160.60,461.29 161.60,459.59 162.60,457.86 163.60,456.09 164.60,454.29 165.60,452.48 166.60,450.64 167.60,448.80 168.60,446.95 169.60,445.11 170.60,443.29 171.60,441.48 172.60,439.69 173.60,437.93 174.60,436.21 175.60,434.54 176.60,432.90 177.60,431.32 178.60,429.78 179.60,428.31 180.60,426.89 181.60,425.53 182.60,424.23 183.60,422.99 184.60,421.81 185.60,420.70 186.60,419.64 187.60,418.64 188.60,417.70 189.60,416.81" fill="none" stroke="#a81c3c" stroke-width="1.3"/>
<polyline points="64.60,491.25 65.60,491.25 66.60,491.25 67.60,491.25 68.60,491.25 69.60,491.25 70.60,491.25 71.60,491.25 72.60,491.25 73.60,491.25 74.60,491.25 75.60,491.25 76.60,491.25 77.60,491.25 78.60,491.25 79.60,491.25 80.60,491.25 81.60,491.25 82.60,491.25 83.60,491.25 84.60,491.25 85.60,491.24 86.60,491.24 87.60,491.24 88.60,491.24 89.60,491.24 90.60,491.24 91.60,491.24 92.60,491.24 93.60,491.24 94.60,491.24 95.60,491.24 96.60,491.24 97.60,491.23 98.60,491.23 99.60,491.23 100.60,491.23 101.60,491.23 102.60,491.22 103.60,491.22 104.60,491.22 105.60,491.22 106.60,491.21 107.60,491.21 108.60,491.21 109.60,491.20 110.60,491.20 111.60,491.19 112.60,491.19 113.60,491.18 114.60,491.17 115.60,491.16 116.60,491.16 117.60,491.15 118.60,491.14 119.60,491.12 120.60,491.11 121.60,491.10 122.60,491.08 123.60,491.07 124.60,491.05 125.60,491.03 126.60,491.01 127.60,490.98 128.60,490.96 129.60,490.93 130.60,490.90 131.60,490.86 132.60,490.82 133.60,490.78 134.60,490.74 135.60,490.69 136.60,490.63 137.60,490.57 138.60,490.50 139.60,490.43 140.60,490.35 141.60,490.26 142.60,490.16 143.60,490.06 144.60,489.94 145.60,489.81 146.60,489.67 147.60,489.52 148.60,489.35 149.60,489.17 150.60,488.97 151.60,488.75 152.60,488.51 153.60,488.25 154.60,487.97 155.60,487.65 156.60,487.31 157.60,486.94 158.60,486.54 159.60,486.10 160.60,485.63 161.60,485.11 162.60,484.55 163.60,483.94 164.60,483.29 165.60,482.58 166.60,481.81 167.60,480.99 168.60,480.11 169.60,479.16 170.60,478.14 171.60,477.06 172.60,475.91 173.60,474.68 174.60,473.38 175.60,472.01 176.60,470.56 177.60,469.04 178.60,467.45 179.60,465.79 180.60,464.07 181.60,462.28 182.60,460.44 183.60,458.55 184.60,456.62 185.60,454.65 186.60,452.65 187.60,450.64 188.60,448.61 189.60,446.58" fill="none" stroke="#6b4a30" stroke-width="1.1"/>
<polyline points="64.60,491.25 65.60,491.25 66.60,491.25 67.60,491.25 68.60,491.25 69.60,491.25 70.60,491.25 71.60,491.25 72.60,491.25 73.60,491.25 74.60,491.25 75.60,491.25 76.60,491.25 77.60,491.25 78.60,491.25 79.60,491.25 80.60,491.25 81.60,491.25 82.60,491.25 83.60,491.25 84.60,491.25 85.60,491.25 86.60,491.25 87.60,491.25 88.60,491.25 89.60,491.25 90.60,491.25 91.60,491.25 92.60,491.25 93.60,491.25 94.60,491.25 95.60,491.24 96.60,491.24 97.60,491.24 98.60,491.24 99.60,491.24 100.60,491.24 101.60,491.24 102.60,491.24 103.60,491.24 104.60,491.24 105.60,491.24 106.60,491.24 107.60,491.23 108.60,491.23 109.60,491.23 110.60,491.23 111.60,491.23 112.60,491.22 113.60,491.22 114.60,491.22 115.60,491.22 116.60,491.21 117.60,491.21 118.60,491.20 119.60,491.20 120.60,491.19 121.60,491.19 122.60,491.18 123.60,491.18 124.60,491.17 125.60,491.16 126.60,491.15 127.60,491.14 128.60,491.13 129.60,491.12 130.60,491.11 131.60,491.09 132.60,491.08 133.60,491.06 134.60,491.04 135.60,491.02 136.60,491.00 137.60,490.97 138.60,490.94 139.60,490.91 140.60,490.88 141.60,490.84 142.60,490.81 143.60,490.76 144.60,490.71 145.60,490.66 146.60,490.60 147.60,490.54 148.60,490.47 149.60,490.39 150.60,490.31 151.60,490.22 152.60,490.12 153.60,490.01 154.60,489.88 155.60,489.75 156.60,489.61 157.60,489.45 158.60,489.27 159.60,489.08 160.60,488.87 161.60,488.64 162.60,488.39 163.60,488.12 164.60,487.82 165.60,487.50 166.60,487.15 167.60,486.76 168.60,486.34 169.60,485.89 170.60,485.39 171.60,484.86 172.60,484.27 173.60,483.64 174.60,482.96 175.60,482.23 176.60,481.44 177.60,480.59 178.60,479.67 179.60,478.70 180.60,477.65 181.60,476.53 182.60,475.35 183.60,474.09 184.60,472.75 185.60,471.34 186.60,469.86 187.60,468.31 188.60,466.69 189.60,465.00" fill="none" stroke="#6b4a30" stroke-width="1.1"/>
<polyline points="64.60,491.25 65.60,491.25 66.60,491.25 67.60,491.25 68.60,491.25 69.60,491.25 70.60,491.25 71.60,491.25 72.60,491.25 73.60,491.25 74.60,491.25 75.60,491.25 76.60,491.25 77.60,491.25 78.60,491.25 79.60,491.25 80.60,491.25 81.60,491.25 82.60,491.25 83.60,491.25 84.60,491.25 85.60,491.25 86.60,491.25 87.60,491.25 88.60,491.25 89.60,491.25 90.60,491.25 91.60,491.25 92.60,491.25 93.60,491.25 94.60,491.25 95.60,491.25 96.60,491.25 97.60,491.25 98.60,491.24 99.60,491.24 100.60,491.24 101.60,491.24 102.60,491.24 103.60,491.24 104.60,491.24 105.60,491.24 106.60,491.24 107.60,491.24 108.60,491.24 109.60,491.23 110.60,491.23 111.60,491.23 112.60,491.23 113.60,491.23 114.60,491.23 115.60,491.22 116.60,491.22 117.60,491.22 118.60,491.21 119.60,491.21 120.60,491.21 121.60,491.20 122.60,491.20 123.60,491.19 124.60,491.19 125.60,491.18 126.60,491.17 127.60,491.17 128.60,491.16 129.60,491.15 130.60,491.14 131.60,491.13 132.60,491.12 133.60,491.10 134.60,491.09 135.60,491.07 136.60,491.06 137.60,491.04 138.60,491.02 139.60,490.99 140.60,490.97 141.60,490.94 142.60,490.91 143.60,490.88 144.60,490.84 145.60,490.80 146.60,490.75 147.60,490.70 148.60,490.65 149.60,490.59 150.60,490.53 151.60,490.46 152.60,490.38 153.60,490.29 154.60,490.20 155.60,490.10 156.60,489.98 157.60,489.86 158.60,489.73 159.60,489.58 160.60,489.42 161.60,489.24 162.60,489.05 163.60,488.83 164.60,488.60 165.60,488.35 166.60,488.07 167.60,487.77 168.60,487.44 169.60,487.08 170.60,486.69 171.60,486.27 172.60,485.80 173.60,485.30 174.60,484.76 175.60,484.17 176.60,483.53 177.60,482.84 178.60,482.10 179.60,481.30 180.60,480.43 181.60,479.51 182.60,478.52 183.60,477.46 184.60,476.33 185.60,475.13 186.60,473.86 187.60,472.51 188.60,471.09 189.60,469.60" fill="none" stroke="#6b4a30" stroke-width="1.1"/>
<polyline points="64.60,491.25 65.60,491.25 66.60,491.25 67.60,491.25 68.60,491.25 69.60,491.25 70.60,491.25 71.60,491.25 72.60,491.25 73.60,491.25 74.60,491.25 75.60,491.25 76.60,491.25 77.60,491.25 78.60,491.25 79.60,491.25 80.60,491.25 81.60,491.25 82.60,491.25 83.60,491.25 84.60,491.25 85.60,491.25 86.60,491.25 87.60,491.25 88.60,491.25 89.60,491.25 90.60,491.25 91.60,491.25 92.60,491.25 93.60,491.25 94.60,491.25 95.60,491.25 96.60,491.25 97.60,491.25 98.60,491.25 99.60,491.25 100.60,491.25 101.60,491.25 102.60,491.25 103.60,491.25 104.60,491.25 105.60,491.25 106.60,491.25 107.60,491.25 108.60,491.25 109.60,491.25 110.60,491.25 111.60,491.25 112.60,491.24 113.60,491.24 114.60,491.24 115.60,491.24 116.60,491.24 117.60,491.24 118.60,491.24 119.60,491.24 120.60,491.24 121.60,491.24 122.60,491.24 123.60,491.24 124.60,491.23 125.60,491.23 126.60,491.23 127.60,491.23 128.60,491.23 129.60,491.22 130.60,491.22 131.60,491.22 132.60,491.22 133.60,491.21 134.60,491.21 135.60,491.20 136.60,491.20 137.60,491.19 138.60,491.19 139.60,491.18 140.60,491.18 141.60,491.17 142.60,491.16 143.60,491.15 144.60,491.14 145.60,491.13 146.60,491.12 147.60,491.11 148.60,491.09 149.60,491.08 150.60,491.06 151.60,491.04 152.60,491.02 153.60,491.00 154.60,490.97 155.60,490.95 156.60,490.92 157.60,490.88 158.60,490.85 159.60,490.81 160.60,490.76 161.60,490.71 162.60,490.66 163.60,490.60 164.60,490.54 165.60,490.47 166.60,490.40 167.60,490.31 168.60,490.22 169.60,490.12 170.60,490.01 171.60,489.89 172.60,489.76 173.60,489.61 174.60,489.45 175.60,489.28 176.60,489.09 177.60,488.88 178.60,488.65 179.60,488.40 180.60,488.13 181.60,487.84 182.60,487.51 183.60,487.16 184.60,486.78 185.60,486.36 186.60,485.90 187.60,485.41 188.60,484.87 189.60,484.29" fill="none" stroke="#6b4a30" stroke-width="1.1"/>
<line x1="64.60" y1="396.90" x2="64.60" y2="491.75" stroke="#1a1a1a" stroke-width="1.1" />
<line x1="64.10" y1="491.25" x2="190.00" y2="491.25" stroke="#1a1a1a" stroke-width="1.1" />
<line x1="60.60" y1="491.25" x2="64.60" y2="491.25" stroke="#1a1a1a" stroke-width="1.1" />
<text x="58.30" y="494.30" font-size="8.6" text-anchor="end" fill="#2a2a2a" font-weight="normal" letter-spacing="0.4">0</text>
<line x1="60.60" y1="469.75" x2="64.60" y2="469.75" stroke="#1a1a1a" stroke-width="1.1" />
<text x="58.30" y="472.80" font-size="8.6" text-anchor="end" fill="#2a2a2a" font-weight="normal" letter-spacing="0.4">25</text>
<line x1="60.60" y1="448.25" x2="64.60" y2="448.25" stroke="#1a1a1a" stroke-width="1.1" />
<text x="58.30" y="451.30" font-size="8.6" text-anchor="end" fill="#2a2a2a" font-weight="normal" letter-spacing="0.4">50</text>
<line x1="60.60" y1="426.75" x2="64.60" y2="426.75" stroke="#1a1a1a" stroke-width="1.1" />
<text x="58.30" y="429.80" font-size="8.6" text-anchor="end" fill="#2a2a2a" font-weight="normal" letter-spacing="0.4">75</text>
<line x1="60.60" y1="405.25" x2="64.60" y2="405.25" stroke="#1a1a1a" stroke-width="1.1" />
<text x="58.30" y="408.30" font-size="8.6" text-anchor="end" fill="#2a2a2a" font-weight="normal" letter-spacing="0.4">100</text>
<line x1="90.75" y1="491.25" x2="90.75" y2="494.75" stroke="#1a1a1a" stroke-width="1.1" />
<text x="90.95" y="506.05" font-size="8.6" text-anchor="middle" fill="#2a2a2a" font-weight="normal" letter-spacing="0.4">1</text>
<line x1="118.00" y1="491.25" x2="118.00" y2="494.75" stroke="#1a1a1a" stroke-width="1.1" />
<text x="118.20" y="506.05" font-size="8.6" text-anchor="middle" fill="#2a2a2a" font-weight="normal" letter-spacing="0.4">10</text>
<line x1="144.60" y1="491.25" x2="144.60" y2="494.75" stroke="#1a1a1a" stroke-width="1.1" />
<text x="144.80" y="506.05" font-size="8.6" text-anchor="middle" fill="#2a2a2a" font-weight="normal" letter-spacing="0.4">100</text>
<line x1="171.25" y1="491.25" x2="171.25" y2="494.75" stroke="#1a1a1a" stroke-width="1.1" />
<text x="171.45" y="506.05" font-size="8.6" text-anchor="middle" fill="#2a2a2a" font-weight="normal" letter-spacing="0.4">1000</text>
<text transform="translate(94.50,520.80) scale(0.58,1)" x="0" y="0" font-size="11.4" fill="#2a2a2a" class="lab" textLength="111.21" lengthAdjust="spacing">AZD5991 [24h, nM]</text>
<text transform="translate(36.16,444.57) rotate(-90) scale(0.69,1)" x="0" y="0" font-size="9.6" text-anchor="middle" fill="#2a2a2a" class="lab" textLength="108.19" lengthAdjust="spacing">Relative cell death [%]</text>
<line x1="200.00" y1="430.50" x2="210.20" y2="430.50" stroke="#e09a40" stroke-width="1.3" />
<text x="213.70" y="433.55" font-size="8.6" text-anchor="start" fill="#2a2a2a" font-weight="normal" textLength="51.30" lengthAdjust="spacingAndGlyphs" >10 - ≤ 100 nM</text>
<line x1="200.00" y1="443.90" x2="210.20" y2="443.90" stroke="#b03a5a" stroke-width="1.3" />
<text x="213.70" y="446.95" font-size="8.6" text-anchor="start" fill="#2a2a2a" font-weight="normal" textLength="61.30" lengthAdjust="spacingAndGlyphs" >100 - ≤ 1000 nM</text>
<line x1="200.00" y1="457.20" x2="210.20" y2="457.20" stroke="#5a4530" stroke-width="1.3" />
<text x="213.70" y="460.25" font-size="8.6" text-anchor="start" fill="#2a2a2a" font-weight="normal" textLength="38.80" lengthAdjust="spacingAndGlyphs" >&gt; 1000 nM</text>
<text x="294.80" y="38.20" font-size="12.2" text-anchor="start" fill="#000" font-weight="bold" >B</text>
<line x1="350.25" y1="45.60" x2="350.25" y2="147.60" stroke="#1a1a1a" stroke-width="1.1" />
<line x1="346.25" y1="48.40" x2="350.25" y2="48.40" stroke="#1a1a1a" stroke-width="1.1" />
<text x="343.30" y="51.45" font-size="8.6" text-anchor="end" fill="#2a2a2a" font-weight="normal" letter-spacing="0.4">100000</text>
<line x1="346.25" y1="65.00" x2="350.25" y2="65.00" stroke="#1a1a1a" stroke-width="1.1" />
<text x="343.30" y="68.05" font-size="8.6" text-anchor="end" fill="#2a2a2a" font-weight="normal" letter-spacing="0.4">10000</text>
<line x1="346.25" y1="81.40" x2="350.25" y2="81.40" stroke="#1a1a1a" stroke-width="1.1" />
<text x="343.30" y="84.45" font-size="8.6" text-anchor="end" fill="#2a2a2a" font-weight="normal" letter-spacing="0.4">1000</text>
<line x1="346.25" y1="97.90" x2="350.25" y2="97.90" stroke="#1a1a1a" stroke-width="1.1" />
<text x="343.30" y="100.95" font-size="8.6" text-anchor="end" fill="#2a2a2a" font-weight="normal" letter-spacing="0.4">100</text>
<line x1="346.25" y1="114.30" x2="350.25" y2="114.30" stroke="#1a1a1a" stroke-width="1.1" />
<text x="343.30" y="117.35" font-size="8.6" text-anchor="end" fill="#2a2a2a" font-weight="normal" letter-spacing="0.4">10</text>
<line x1="346.25" y1="130.70" x2="350.25" y2="130.70" stroke="#1a1a1a" stroke-width="1.1" />
<text x="343.30" y="133.75" font-size="8.6" text-anchor="end" fill="#2a2a2a" font-weight="normal" letter-spacing="0.4">1</text>
<line x1="346.25" y1="147.10" x2="350.25" y2="147.10" stroke="#1a1a1a" stroke-width="1.1" />
<text x="343.30" y="150.15" font-size="8.6" text-anchor="end" fill="#2a2a2a" font-weight="normal" letter-spacing="0.4">0.1</text>
<line x1="349.75" y1="147.10" x2="505.00" y2="147.10" stroke="#1a1a1a" stroke-width="1.1" />
<line x1="379.75" y1="147.10" x2="379.75" y2="150.60" stroke="#1a1a1a" stroke-width="1.0" />
<text x="379.75" y="162.05" font-size="8.6" text-anchor="middle" fill="#2a2a2a" font-weight="normal" textLength="40.00" lengthAdjust="spacingAndGlyphs" >AZD4320</text>
<line x1="427.70" y1="147.10" x2="427.70" y2="150.60" stroke="#1a1a1a" stroke-width="1.0" />
<text x="427.70" y="162.05" font-size="8.6" text-anchor="middle" fill="#2a2a2a" font-weight="normal" textLength="40.00" lengthAdjust="spacingAndGlyphs" >Venetoclax</text>
<line x1="475.70" y1="147.10" x2="475.70" y2="150.60" stroke="#1a1a1a" stroke-width="1.0" />
<text x="475.70" y="162.05" font-size="8.6" text-anchor="middle" fill="#2a2a2a" font-weight="normal" textLength="44.50" lengthAdjust="spacingAndGlyphs" >A-1331852</text>
<text transform="translate(302.06,100.00) rotate(-90) scale(0.69,1)" x="0" y="0" font-size="9.6" text-anchor="middle" fill="#2a2a2a" class="lab" textLength="46.96" lengthAdjust="spacing">EC<tspan font-size="5.6" dy="3.3">50</tspan><tspan dy="-3.3"> </tspan>[nM]</text>
<line x1="426.00" y1="17.80" x2="475.10" y2="17.80" stroke="#555" stroke-width="1.2" />
<text x="450.80" y="14.60" font-size="9.2" text-anchor="middle" fill="#2a2a2a" font-weight="normal" >ns</text>
<line x1="377.40" y1="34.30" x2="475.10" y2="34.30" stroke="#555" stroke-width="1.2" />
<text x="426.00" y="31.07" font-size="9.2" text-anchor="middle" fill="#2a2a2a" font-weight="normal" >&lt;.001</text>
<line x1="377.40" y1="50.80" x2="426.00" y2="50.80" stroke="#555" stroke-width="1.2" />
<text x="401.70" y="48.37" font-size="9.2" text-anchor="middle" fill="#2a2a2a" font-weight="normal" >&lt;.001</text>
<line x1="365.25" y1="116.50" x2="394.75" y2="116.50" stroke="#1a1a1a" stroke-width="1.3" />
<line x1="413.00" y1="84.40" x2="442.50" y2="84.40" stroke="#1a1a1a" stroke-width="1.3" />
<line x1="461.00" y1="83.10" x2="490.60" y2="83.10" stroke="#1a1a1a" stroke-width="1.3" />
<rect x="378.55" y="96.67" width="2.4" height="2.4" fill="#1a3360"/>
<rect x="376.05" y="99.67" width="2.4" height="2.4" fill="#1a3360"/>
<rect x="381.30" y="99.67" width="2.4" height="2.4" fill="#1a3360"/>
<rect x="378.55" y="102.92" width="2.4" height="2.4" fill="#1a3360"/>
<rect x="378.55" y="105.30" width="2.4" height="2.4" fill="#1a3360"/>
<rect x="368.80" y="108.80" width="2.4" height="2.4" fill="#1a3360"/>
<rect x="373.80" y="108.42" width="2.4" height="2.4" fill="#1a3360"/>
<rect x="368.80" y="112.30" width="2.4" height="2.4" fill="#1a3360"/>
<rect x="373.80" y="111.55" width="2.4" height="2.4" fill="#1a3360"/>
<rect x="378.55" y="112.30" width="2.4" height="2.4" fill="#1a3360"/>
<rect x="383.80" y="112.80" width="2.4" height="2.4" fill="#1a3360"/>
<rect x="388.80" y="111.05" width="2.4" height="2.4" fill="#1a3360"/>
<rect x="368.80" y="115.92" width="2.4" height="2.4" fill="#1a3360"/>
<rect x="373.80" y="115.92" width="2.4" height="2.4" fill="#1a3360"/>
<rect x="378.55" y="115.67" width="2.4" height="2.4" fill="#1a3360"/>
<rect x="383.80" y="115.92" width="2.4" height="2.4" fill="#1a3360"/>
<rect x="388.80" y="114.67" width="2.4" height="2.4" fill="#1a3360"/>
<rect x="368.80" y="119.42" width="2.4" height="2.4" fill="#1a3360"/>
<rect x="373.80" y="118.17" width="2.4" height="2.4" fill="#1a3360"/>
<rect x="378.80" y="119.42" width="2.4" height="2.4" fill="#1a3360"/>
<rect x="383.80" y="118.80" width="2.4" height="2.4" fill="#1a3360"/>
<rect x="388.80" y="117.80" width="2.4" height="2.4" fill="#1a3360"/>
<rect x="373.80" y="121.05" width="2.4" height="2.4" fill="#1a3360"/>
<rect x="378.80" y="122.80" width="2.4" height="2.4" fill="#1a3360"/>
<rect x="383.80" y="121.92" width="2.4" height="2.4" fill="#1a3360"/>
<rect x="378.80" y="126.55" width="2.4" height="2.4" fill="#1a3360"/>
<rect x="378.80" y="135.05" width="2.4" height="2.4" fill="#1a3360"/>
<rect x="426.55" y="54.80" width="2.4" height="2.4" fill="#1a3360"/>
<rect x="424.18" y="61.30" width="2.4" height="2.4" fill="#1a3360"/>
<rect x="429.18" y="61.30" width="2.4" height="2.4" fill="#1a3360"/>
<rect x="421.55" y="66.05" width="2.4" height="2.4" fill="#1a3360"/>
<rect x="426.55" y="66.92" width="2.4" height="2.4" fill="#1a3360"/>
<rect x="431.68" y="65.67" width="2.4" height="2.4" fill="#1a3360"/>
<rect x="424.18" y="71.92" width="2.4" height="2.4" fill="#1a3360"/>
<rect x="429.18" y="72.55" width="2.4" height="2.4" fill="#1a3360"/>
<rect x="421.55" y="77.55" width="2.4" height="2.4" fill="#1a3360"/>
<rect x="426.55" y="76.92" width="2.4" height="2.4" fill="#1a3360"/>
<rect x="431.68" y="76.05" width="2.4" height="2.4" fill="#1a3360"/>
<rect x="426.55" y="80.05" width="2.4" height="2.4" fill="#1a3360"/>
<rect x="431.68" y="79.67" width="2.4" height="2.4" fill="#1a3360"/>
<rect x="426.55" y="86.30" width="2.4" height="2.4" fill="#1a3360"/>
<rect x="431.68" y="90.30" width="2.4" height="2.4" fill="#1a3360"/>
<rect x="426.55" y="91.67" width="2.4" height="2.4" fill="#1a3360"/>
<rect x="421.55" y="92.80" width="2.4" height="2.4" fill="#1a3360"/>
<rect x="416.55" y="94.42" width="2.4" height="2.4" fill="#1a3360"/>
<rect x="421.55" y="95.67" width="2.4" height="2.4" fill="#1a3360"/>
<rect x="426.55" y="96.55" width="2.4" height="2.4" fill="#1a3360"/>
<rect x="431.68" y="95.67" width="2.4" height="2.4" fill="#1a3360"/>
<rect x="436.68" y="95.05" width="2.4" height="2.4" fill="#1a3360"/>
<rect x="426.55" y="101.30" width="2.4" height="2.4" fill="#1a3360"/>
<rect x="424.18" y="104.42" width="2.4" height="2.4" fill="#1a3360"/>
<rect x="429.18" y="105.92" width="2.4" height="2.4" fill="#1a3360"/>
<rect x="426.55" y="108.80" width="2.4" height="2.4" fill="#1a3360"/>
<rect x="474.55" y="61.55" width="2.4" height="2.4" fill="#1a3360"/>
<rect x="466.93" y="65.67" width="2.4" height="2.4" fill="#1a3360"/>
<rect x="471.93" y="65.67" width="2.4" height="2.4" fill="#1a3360"/>
<rect x="477.05" y="66.67" width="2.4" height="2.4" fill="#1a3360"/>
<rect x="474.55" y="70.05" width="2.4" height="2.4" fill="#1a3360"/>
<rect x="466.93" y="75.05" width="2.4" height="2.4" fill="#1a3360"/>
<rect x="471.93" y="74.05" width="2.4" height="2.4" fill="#1a3360"/>
<rect x="477.05" y="76.05" width="2.4" height="2.4" fill="#1a3360"/>
<rect x="482.05" y="75.67" width="2.4" height="2.4" fill="#1a3360"/>
<rect x="466.93" y="78.55" width="2.4" height="2.4" fill="#1a3360"/>
<rect x="471.93" y="79.67" width="2.4" height="2.4" fill="#1a3360"/>
<rect x="477.05" y="78.17" width="2.4" height="2.4" fill="#1a3360"/>
<rect x="482.05" y="79.17" width="2.4" height="2.4" fill="#1a3360"/>
<rect x="471.93" y="83.42" width="2.4" height="2.4" fill="#1a3360"/>
<rect x="477.05" y="81.92" width="2.4" height="2.4" fill="#1a3360"/>
<rect x="474.55" y="88.17" width="2.4" height="2.4" fill="#1a3360"/>
<rect x="466.93" y="93.55" width="2.4" height="2.4" fill="#1a3360"/>
<rect x="471.93" y="94.42" width="2.4" height="2.4" fill="#1a3360"/>
<rect x="477.05" y="94.17" width="2.4" height="2.4" fill="#1a3360"/>
<rect x="482.05" y="92.55" width="2.4" height="2.4" fill="#1a3360"/>
<rect x="474.55" y="98.55" width="2.4" height="2.4" fill="#1a3360"/>
<rect x="474.55" y="101.55" width="2.4" height="2.4" fill="#1a3360"/>
<rect x="471.93" y="109.67" width="2.4" height="2.4" fill="#1a3360"/>
<rect x="482.05" y="110.67" width="2.4" height="2.4" fill="#1a3360"/>
<rect x="471.93" y="113.17" width="2.4" height="2.4" fill="#1a3360"/>
<rect x="477.05" y="113.17" width="2.4" height="2.4" fill="#1a3360"/>
<rect x="474.55" y="116.92" width="2.4" height="2.4" fill="#1a3360"/>
<text x="7.80" y="207.30" font-size="12.2" text-anchor="start" fill="#000" font-weight="bold" >C</text>
<line x1="64.40" y1="216.00" x2="64.40" y2="319.25" stroke="#1a1a1a" stroke-width="1.1" />
<line x1="60.40" y1="218.75" x2="64.40" y2="218.75" stroke="#1a1a1a" stroke-width="1.1" />
<text x="57.80" y="221.80" font-size="8.6" text-anchor="end" fill="#2a2a2a" font-weight="normal" letter-spacing="0.4">100000</text>
<line x1="60.40" y1="243.75" x2="64.40" y2="243.75" stroke="#1a1a1a" stroke-width="1.1" />
<text x="57.80" y="246.80" font-size="8.6" text-anchor="end" fill="#2a2a2a" font-weight="normal" letter-spacing="0.4">10000</text>
<line x1="60.40" y1="268.75" x2="64.40" y2="268.75" stroke="#1a1a1a" stroke-width="1.1" />
<text x="57.80" y="271.80" font-size="8.6" text-anchor="end" fill="#2a2a2a" font-weight="normal" letter-spacing="0.4">1000</text>
<line x1="60.40" y1="293.75" x2="64.40" y2="293.75" stroke="#1a1a1a" stroke-width="1.1" />
<text x="57.80" y="296.80" font-size="8.6" text-anchor="end" fill="#2a2a2a" font-weight="normal" letter-spacing="0.4">100</text>
<line x1="60.40" y1="318.75" x2="64.40" y2="318.75" stroke="#1a1a1a" stroke-width="1.1" />
<text x="57.80" y="321.80" font-size="8.6" text-anchor="end" fill="#2a2a2a" font-weight="normal" letter-spacing="0.4">10</text>
<line x1="63.90" y1="318.90" x2="217.50" y2="318.90" stroke="#1a1a1a" stroke-width="1.1" />
<line x1="64.40" y1="318.90" x2="64.40" y2="322.40" stroke="#1a1a1a" stroke-width="1.1" />
<text x="64.60" y="333.65" font-size="8.6" text-anchor="middle" fill="#2a2a2a" font-weight="normal" letter-spacing="0.4">0.1</text>
<line x1="101.90" y1="318.90" x2="101.90" y2="322.40" stroke="#1a1a1a" stroke-width="1.1" />
<text x="102.10" y="333.65" font-size="8.6" text-anchor="middle" fill="#2a2a2a" font-weight="normal" letter-spacing="0.4">1</text>
<line x1="139.40" y1="318.90" x2="139.40" y2="322.40" stroke="#1a1a1a" stroke-width="1.1" />
<text x="139.60" y="333.65" font-size="8.6" text-anchor="middle" fill="#2a2a2a" font-weight="normal" letter-spacing="0.4">10</text>
<line x1="176.90" y1="318.90" x2="176.90" y2="322.40" stroke="#1a1a1a" stroke-width="1.1" />
<text x="177.10" y="333.65" font-size="8.6" text-anchor="middle" fill="#2a2a2a" font-weight="normal" letter-spacing="0.4">100</text>
<line x1="214.40" y1="318.90" x2="214.40" y2="322.40" stroke="#1a1a1a" stroke-width="1.1" />
<text x="214.60" y="333.65" font-size="8.6" text-anchor="middle" fill="#2a2a2a" font-weight="normal" letter-spacing="0.4">1000</text>
<text x="99" y="216.80" font-size="8.6" fill="#2a2a2a" textLength="72" lengthAdjust="spacingAndGlyphs">r = 0.647, <tspan font-style="italic">P</tspan> &lt; .001</text>
<text transform="translate(107.40,349.20) scale(0.58,1)" x="0" y="0" font-size="11.4" fill="#2a2a2a" class="lab" textLength="110.52" lengthAdjust="spacing">EC<tspan font-size="5.6" dy="3.3">50</tspan><tspan dy="-3.3"> </tspan>AZD4320 [nM]</text>
<text transform="translate(16.86,269.00) rotate(-90) scale(0.69,1)" x="0" y="0" font-size="9.6" text-anchor="middle" fill="#2a2a2a" class="lab" textLength="98.84" lengthAdjust="spacing">EC<tspan font-size="5.6" dy="3.3">50</tspan><tspan dy="-3.3"> </tspan>venetoclax [nM]</text>
<circle cx="170.25" cy="230.25" r="1.3" fill="#112240"/>
<circle cx="149.00" cy="240.50" r="1.3" fill="#112240"/>
<circle cx="164.00" cy="240.50" r="1.3" fill="#112240"/>
<circle cx="157.75" cy="246.75" r="1.3" fill="#112240"/>
<circle cx="177.25" cy="247.50" r="1.3" fill="#112240"/>
<circle cx="134.00" cy="249.25" r="1.3" fill="#112240"/>
<circle cx="119.50" cy="256.25" r="1.3" fill="#112240"/>
<circle cx="150.25" cy="257.25" r="1.3" fill="#112240"/>
<circle cx="170.25" cy="262.50" r="1.3" fill="#112240"/>
<circle cx="134.00" cy="265.00" r="1.3" fill="#112240"/>
<circle cx="139.75" cy="263.75" r="1.3" fill="#112240"/>
<circle cx="129.00" cy="267.75" r="1.3" fill="#112240"/>
<circle cx="135.25" cy="268.50" r="1.3" fill="#112240"/>
<circle cx="143.00" cy="273.25" r="1.3" fill="#112240"/>
<circle cx="125.25" cy="277.75" r="1.3" fill="#112240"/>
<circle cx="132.50" cy="284.00" r="1.3" fill="#112240"/>
<circle cx="141.50" cy="286.50" r="1.3" fill="#112240"/>
<circle cx="117.00" cy="288.25" r="1.3" fill="#112240"/>
<circle cx="124.00" cy="290.75" r="1.3" fill="#112240"/>
<circle cx="129.00" cy="292.75" r="1.3" fill="#112240"/>
<circle cx="141.50" cy="292.50" r="1.3" fill="#112240"/>
<circle cx="144.00" cy="291.75" r="1.3" fill="#112240"/>
<circle cx="108.50" cy="293.75" r="1.3" fill="#112240"/>
<circle cx="137.25" cy="300.50" r="1.3" fill="#112240"/>
<circle cx="89.75" cy="305.50" r="1.3" fill="#112240"/>
<circle cx="126.00" cy="308.00" r="1.3" fill="#112240"/>
<circle cx="122.00" cy="312.75" r="1.3" fill="#112240"/>
<text x="294.80" y="207.30" font-size="12.2" text-anchor="start" fill="#000" font-weight="bold" >D</text>
<line x1="349.40" y1="214.40" x2="349.40" y2="318.70" stroke="#1a1a1a" stroke-width="1.1" />
<line x1="345.40" y1="217.50" x2="349.40" y2="217.50" stroke="#1a1a1a" stroke-width="1.1" />
<text x="342.70" y="220.55" font-size="8.6" text-anchor="end" fill="#2a2a2a" font-weight="normal" letter-spacing="0.4">100000</text>
<line x1="345.40" y1="237.70" x2="349.40" y2="237.70" stroke="#1a1a1a" stroke-width="1.1" />
<text x="342.70" y="240.75" font-size="8.6" text-anchor="end" fill="#2a2a2a" font-weight="normal" letter-spacing="0.4">10000</text>
<line x1="345.40" y1="257.90" x2="349.40" y2="257.90" stroke="#1a1a1a" stroke-width="1.1" />
<text x="342.70" y="260.95" font-size="8.6" text-anchor="end" fill="#2a2a2a" font-weight="normal" letter-spacing="0.4">1000</text>
<line x1="345.40" y1="278.10" x2="349.40" y2="278.10" stroke="#1a1a1a" stroke-width="1.1" />
<text x="342.70" y="281.15" font-size="8.6" text-anchor="end" fill="#2a2a2a" font-weight="normal" letter-spacing="0.4">100</text>
<line x1="345.40" y1="298.10" x2="349.40" y2="298.10" stroke="#1a1a1a" stroke-width="1.1" />
<text x="342.70" y="301.15" font-size="8.6" text-anchor="end" fill="#2a2a2a" font-weight="normal" letter-spacing="0.4">10</text>
<line x1="345.40" y1="318.20" x2="349.40" y2="318.20" stroke="#1a1a1a" stroke-width="1.1" />
<text x="342.70" y="321.25" font-size="8.6" text-anchor="end" fill="#2a2a2a" font-weight="normal" letter-spacing="0.4">1</text>
<line x1="348.90" y1="318.20" x2="503.75" y2="318.20" stroke="#1a1a1a" stroke-width="1.1" />
<line x1="349.40" y1="318.20" x2="349.40" y2="321.70" stroke="#1a1a1a" stroke-width="1.1" />
<text x="349.60" y="333.05" font-size="8.6" text-anchor="middle" fill="#2a2a2a" font-weight="normal" letter-spacing="0.4">0.1</text>
<line x1="387.20" y1="318.20" x2="387.20" y2="321.70" stroke="#1a1a1a" stroke-width="1.1" />
<text x="387.40" y="333.05" font-size="8.6" text-anchor="middle" fill="#2a2a2a" font-weight="normal" letter-spacing="0.4">1</text>
<line x1="425.00" y1="318.20" x2="425.00" y2="321.70" stroke="#1a1a1a" stroke-width="1.1" />
<text x="425.20" y="333.05" font-size="8.6" text-anchor="middle" fill="#2a2a2a" font-weight="normal" letter-spacing="0.4">10</text>
<line x1="462.80" y1="318.20" x2="462.80" y2="321.70" stroke="#1a1a1a" stroke-width="1.1" />
<text x="463.00" y="333.05" font-size="8.6" text-anchor="middle" fill="#2a2a2a" font-weight="normal" letter-spacing="0.4">100</text>
<line x1="500.60" y1="318.20" x2="500.60" y2="321.70" stroke="#1a1a1a" stroke-width="1.1" />
<text x="500.80" y="333.05" font-size="8.6" text-anchor="middle" fill="#2a2a2a" font-weight="normal" letter-spacing="0.4">1000</text>
<text x="393" y="216.80" font-size="8.6" fill="#2a2a2a" textLength="74.5" lengthAdjust="spacingAndGlyphs">r = 0.424, <tspan font-style="italic">P</tspan> = .028</text>
<text transform="translate(393.00,348.10) scale(0.58,1)" x="0" y="0" font-size="11.4" fill="#2a2a2a" class="lab" textLength="110.34" lengthAdjust="spacing">EC<tspan font-size="5.6" dy="3.3">50</tspan><tspan dy="-3.3"> </tspan>AZD4320 [nM]</text>
<text transform="translate(301.36,276.95) rotate(-90) scale(0.69,1)" x="0" y="0" font-size="9.6" text-anchor="middle" fill="#2a2a2a" class="lab" textLength="101.01" lengthAdjust="spacing">EC<tspan font-size="5.6" dy="3.3">50</tspan><tspan dy="-3.3"> </tspan>A-1331852 [nM]</text>
<circle cx="449.50" cy="234.75" r="1.3" fill="#112240"/>
<circle cx="462.50" cy="240.25" r="1.3" fill="#112240"/>
<circle cx="410.25" cy="240.00" r="1.3" fill="#112240"/>
<circle cx="429.50" cy="241.75" r="1.3" fill="#112240"/>
<circle cx="435.75" cy="245.50" r="1.3" fill="#112240"/>
<circle cx="434.00" cy="251.50" r="1.3" fill="#112240"/>
<circle cx="455.50" cy="252.75" r="1.3" fill="#112240"/>
<circle cx="417.75" cy="250.50" r="1.3" fill="#112240"/>
<circle cx="420.75" cy="252.25" r="1.3" fill="#112240"/>
<circle cx="402.50" cy="257.25" r="1.3" fill="#112240"/>
<circle cx="414.50" cy="256.00" r="1.3" fill="#112240"/>
<circle cx="419.50" cy="256.50" r="1.3" fill="#112240"/>
<circle cx="425.50" cy="255.50" r="1.3" fill="#112240"/>
<circle cx="427.00" cy="260.00" r="1.3" fill="#112240"/>
<circle cx="414.25" cy="261.75" r="1.3" fill="#112240"/>
<circle cx="407.25" cy="267.50" r="1.3" fill="#112240"/>
<circle cx="409.75" cy="275.25" r="1.3" fill="#112240"/>
<circle cx="419.50" cy="275.00" r="1.3" fill="#112240"/>
<circle cx="422.75" cy="273.00" r="1.3" fill="#112240"/>
<circle cx="455.50" cy="274.00" r="1.3" fill="#112240"/>
<circle cx="426.75" cy="280.75" r="1.3" fill="#112240"/>
<circle cx="428.25" cy="284.25" r="1.3" fill="#112240"/>
<circle cx="394.00" cy="294.25" r="1.3" fill="#112240"/>
<circle cx="411.50" cy="295.25" r="1.3" fill="#112240"/>
<circle cx="405.00" cy="298.25" r="1.3" fill="#112240"/>
<circle cx="443.25" cy="298.25" r="1.3" fill="#112240"/>
<circle cx="374.75" cy="302.50" r="1.3" fill="#112240"/>
<text x="295.00" y="382.60" font-size="12.2" text-anchor="start" fill="#000" font-weight="bold" >F</text>
<line x1="349.40" y1="389.10" x2="349.40" y2="491.20" stroke="#1a1a1a" stroke-width="1.1" />
<line x1="345.40" y1="392.50" x2="349.40" y2="392.50" stroke="#1a1a1a" stroke-width="1.1" />
<text x="342.90" y="395.55" font-size="8.6" text-anchor="end" fill="#2a2a2a" font-weight="normal" letter-spacing="0.4">100000</text>
<line x1="345.40" y1="412.20" x2="349.40" y2="412.20" stroke="#1a1a1a" stroke-width="1.1" />
<text x="342.90" y="415.25" font-size="8.6" text-anchor="end" fill="#2a2a2a" font-weight="normal" letter-spacing="0.4">10000</text>
<line x1="345.40" y1="431.90" x2="349.40" y2="431.90" stroke="#1a1a1a" stroke-width="1.1" />
<text x="342.90" y="434.95" font-size="8.6" text-anchor="end" fill="#2a2a2a" font-weight="normal" letter-spacing="0.4">1000</text>
<line x1="345.40" y1="451.50" x2="349.40" y2="451.50" stroke="#1a1a1a" stroke-width="1.1" />
<text x="342.90" y="454.55" font-size="8.6" text-anchor="end" fill="#2a2a2a" font-weight="normal" letter-spacing="0.4">100</text>
<line x1="345.40" y1="471.10" x2="349.40" y2="471.10" stroke="#1a1a1a" stroke-width="1.1" />
<text x="342.90" y="474.15" font-size="8.6" text-anchor="end" fill="#2a2a2a" font-weight="normal" letter-spacing="0.4">10</text>
<line x1="345.40" y1="490.70" x2="349.40" y2="490.70" stroke="#1a1a1a" stroke-width="1.1" />
<text x="342.90" y="493.75" font-size="8.6" text-anchor="end" fill="#2a2a2a" font-weight="normal" letter-spacing="0.4">1</text>
<line x1="348.90" y1="490.80" x2="495.40" y2="490.80" stroke="#1a1a1a" stroke-width="1.1" />
<line x1="391.40" y1="490.80" x2="391.40" y2="494.30" stroke="#1a1a1a" stroke-width="1.0" />
<text x="391.40" y="505.25" font-size="8.6" text-anchor="middle" fill="#2a2a2a" font-weight="normal" textLength="38.50" lengthAdjust="spacingAndGlyphs" >AZD5991</text>
<line x1="454.50" y1="490.80" x2="454.50" y2="494.30" stroke="#1a1a1a" stroke-width="1.0" />
<text x="454.50" y="505.25" font-size="8.6" text-anchor="middle" fill="#2a2a2a" font-weight="normal" textLength="32.30" lengthAdjust="spacingAndGlyphs" >S63845</text>
<text x="408.75" y="391.15" font-size="8.6" fill="#2a2a2a" textLength="33.75" lengthAdjust="spacingAndGlyphs"><tspan font-style="italic">P</tspan> = .042</text>
<text transform="translate(301.61,448.12) rotate(-90) scale(0.69,1)" x="0" y="0" font-size="9.6" text-anchor="middle" fill="#2a2a2a" class="lab" textLength="45.29" lengthAdjust="spacing">EC<tspan font-size="5.6" dy="3.3">50</tspan><tspan dy="-3.3"> </tspan>[nM]</text>
<line x1="371.00" y1="443.10" x2="412.25" y2="443.10" stroke="#1a1a1a" stroke-width="1.3" />
<line x1="433.50" y1="437.25" x2="475.25" y2="437.25" stroke="#1a1a1a" stroke-width="1.3" />
<rect x="390.05" y="397.18" width="2.4" height="2.4" fill="#1a3360"/>
<rect x="390.05" y="408.18" width="2.4" height="2.4" fill="#1a3360"/>
<rect x="390.05" y="410.68" width="2.4" height="2.4" fill="#1a3360"/>
<rect x="390.05" y="418.80" width="2.4" height="2.4" fill="#1a3360"/>
<rect x="390.05" y="434.43" width="2.4" height="2.4" fill="#1a3360"/>
<rect x="395.05" y="432.55" width="2.4" height="2.4" fill="#1a3360"/>
<rect x="380.05" y="436.93" width="2.4" height="2.4" fill="#1a3360"/>
<rect x="385.05" y="438.18" width="2.4" height="2.4" fill="#1a3360"/>
<rect x="390.05" y="437.93" width="2.4" height="2.4" fill="#1a3360"/>
<rect x="395.05" y="437.93" width="2.4" height="2.4" fill="#1a3360"/>
<rect x="400.05" y="439.43" width="2.4" height="2.4" fill="#1a3360"/>
<rect x="380.05" y="440.68" width="2.4" height="2.4" fill="#1a3360"/>
<rect x="385.05" y="442.18" width="2.4" height="2.4" fill="#1a3360"/>
<rect x="390.05" y="441.93" width="2.4" height="2.4" fill="#1a3360"/>
<rect x="395.05" y="441.93" width="2.4" height="2.4" fill="#1a3360"/>
<rect x="390.05" y="446.05" width="2.4" height="2.4" fill="#1a3360"/>
<rect x="395.05" y="445.05" width="2.4" height="2.4" fill="#1a3360"/>
<rect x="385.05" y="451.93" width="2.4" height="2.4" fill="#1a3360"/>
<rect x="385.05" y="454.68" width="2.4" height="2.4" fill="#1a3360"/>
<rect x="395.05" y="453.43" width="2.4" height="2.4" fill="#1a3360"/>
<rect x="390.05" y="455.43" width="2.4" height="2.4" fill="#1a3360"/>
<rect x="390.05" y="458.43" width="2.4" height="2.4" fill="#1a3360"/>
<rect x="385.05" y="464.68" width="2.4" height="2.4" fill="#1a3360"/>
<rect x="390.05" y="464.68" width="2.4" height="2.4" fill="#1a3360"/>
<rect x="395.05" y="462.55" width="2.4" height="2.4" fill="#1a3360"/>
<rect x="385.05" y="467.55" width="2.4" height="2.4" fill="#1a3360"/>
<rect x="395.05" y="467.18" width="2.4" height="2.4" fill="#1a3360"/>
<rect x="450.68" y="409.80" width="2.4" height="2.4" fill="#1a3360"/>
<rect x="455.68" y="410.30" width="2.4" height="2.4" fill="#1a3360"/>
<rect x="453.18" y="414.43" width="2.4" height="2.4" fill="#1a3360"/>
<rect x="453.18" y="421.05" width="2.4" height="2.4" fill="#1a3360"/>
<rect x="453.18" y="423.18" width="2.4" height="2.4" fill="#1a3360"/>
<rect x="448.18" y="428.55" width="2.4" height="2.4" fill="#1a3360"/>
<rect x="448.18" y="431.05" width="2.4" height="2.4" fill="#1a3360"/>
<rect x="453.18" y="427.55" width="2.4" height="2.4" fill="#1a3360"/>
<rect x="453.18" y="430.05" width="2.4" height="2.4" fill="#1a3360"/>
<rect x="458.18" y="429.68" width="2.4" height="2.4" fill="#1a3360"/>
<rect x="453.18" y="433.18" width="2.4" height="2.4" fill="#1a3360"/>
<rect x="443.18" y="434.43" width="2.4" height="2.4" fill="#1a3360"/>
<rect x="448.18" y="436.93" width="2.4" height="2.4" fill="#1a3360"/>
<rect x="453.18" y="436.05" width="2.4" height="2.4" fill="#1a3360"/>
<rect x="458.18" y="436.05" width="2.4" height="2.4" fill="#1a3360"/>
<rect x="463.18" y="435.68" width="2.4" height="2.4" fill="#1a3360"/>
<rect x="448.18" y="438.18" width="2.4" height="2.4" fill="#1a3360"/>
<rect x="453.18" y="438.55" width="2.4" height="2.4" fill="#1a3360"/>
<rect x="458.18" y="439.80" width="2.4" height="2.4" fill="#1a3360"/>
<rect x="443.18" y="441.55" width="2.4" height="2.4" fill="#1a3360"/>
<rect x="443.18" y="444.43" width="2.4" height="2.4" fill="#1a3360"/>
<rect x="448.18" y="446.05" width="2.4" height="2.4" fill="#1a3360"/>
<rect x="453.18" y="444.05" width="2.4" height="2.4" fill="#1a3360"/>
<rect x="458.18" y="443.55" width="2.4" height="2.4" fill="#1a3360"/>
<rect x="463.18" y="444.80" width="2.4" height="2.4" fill="#1a3360"/>
<rect x="448.18" y="450.93" width="2.4" height="2.4" fill="#1a3360"/>
<rect x="453.18" y="452.80" width="2.4" height="2.4" fill="#1a3360"/>
<rect x="458.18" y="451.68" width="2.4" height="2.4" fill="#1a3360"/>
<rect x="453.18" y="456.30" width="2.4" height="2.4" fill="#1a3360"/>
<text x="8.10" y="551.00" font-size="12.2" text-anchor="start" fill="#000" font-weight="bold" >G</text>
<line x1="64.60" y1="558.00" x2="64.60" y2="661.50" stroke="#1a1a1a" stroke-width="1.1" />
<line x1="60.60" y1="561.00" x2="64.60" y2="561.00" stroke="#1a1a1a" stroke-width="1.1" />
<text x="57.80" y="564.05" font-size="8.6" text-anchor="end" fill="#2a2a2a" font-weight="normal" letter-spacing="0.4">100000</text>
<line x1="60.60" y1="586.00" x2="64.60" y2="586.00" stroke="#1a1a1a" stroke-width="1.1" />
<text x="57.80" y="589.05" font-size="8.6" text-anchor="end" fill="#2a2a2a" font-weight="normal" letter-spacing="0.4">10000</text>
<line x1="60.60" y1="611.00" x2="64.60" y2="611.00" stroke="#1a1a1a" stroke-width="1.1" />
<text x="57.80" y="614.05" font-size="8.6" text-anchor="end" fill="#2a2a2a" font-weight="normal" letter-spacing="0.4">1000</text>
<line x1="60.60" y1="636.00" x2="64.60" y2="636.00" stroke="#1a1a1a" stroke-width="1.1" />
<text x="57.80" y="639.05" font-size="8.6" text-anchor="end" fill="#2a2a2a" font-weight="normal" letter-spacing="0.4">100</text>
<line x1="60.60" y1="661.00" x2="64.60" y2="661.00" stroke="#1a1a1a" stroke-width="1.1" />
<text x="57.80" y="664.05" font-size="8.6" text-anchor="end" fill="#2a2a2a" font-weight="normal" letter-spacing="0.4">10</text>
<line x1="64.10" y1="661.00" x2="216.90" y2="661.00" stroke="#1a1a1a" stroke-width="1.1" />
<line x1="64.40" y1="661.00" x2="64.40" y2="664.50" stroke="#1a1a1a" stroke-width="1.1" />
<text x="64.60" y="675.90" font-size="8.6" text-anchor="middle" fill="#2a2a2a" font-weight="normal" letter-spacing="0.4">1</text>
<line x1="94.30" y1="661.00" x2="94.30" y2="664.50" stroke="#1a1a1a" stroke-width="1.1" />
<text x="94.50" y="675.90" font-size="8.6" text-anchor="middle" fill="#2a2a2a" font-weight="normal" letter-spacing="0.4">10</text>
<line x1="124.10" y1="661.00" x2="124.10" y2="664.50" stroke="#1a1a1a" stroke-width="1.1" />
<text x="124.30" y="675.90" font-size="8.6" text-anchor="middle" fill="#2a2a2a" font-weight="normal" letter-spacing="0.4">100</text>
<line x1="154.00" y1="661.00" x2="154.00" y2="664.50" stroke="#1a1a1a" stroke-width="1.1" />
<text x="154.20" y="675.90" font-size="8.6" text-anchor="middle" fill="#2a2a2a" font-weight="normal" letter-spacing="0.4">1000</text>
<line x1="183.80" y1="661.00" x2="183.80" y2="664.50" stroke="#1a1a1a" stroke-width="1.1" />
<text x="184.00" y="675.90" font-size="8.6" text-anchor="middle" fill="#2a2a2a" font-weight="normal" letter-spacing="0.4">10000</text>
<line x1="214.00" y1="661.00" x2="214.00" y2="664.50" stroke="#1a1a1a" stroke-width="1.1" />
<text x="214.20" y="675.90" font-size="8.6" text-anchor="middle" fill="#2a2a2a" font-weight="normal" letter-spacing="0.4">100000</text>
<text x="100.9" y="561.25" font-size="8.6" fill="#2a2a2a" textLength="73.9" lengthAdjust="spacingAndGlyphs">r = 0.668, <tspan font-style="italic">P</tspan> &lt; .001</text>
<text transform="translate(106.70,690.50) scale(0.58,1)" x="0" y="0" font-size="11.4" fill="#2a2a2a" class="lab" textLength="110.52" lengthAdjust="spacing">EC<tspan font-size="5.6" dy="3.3">50</tspan><tspan dy="-3.3"> </tspan>AZD5991 [nM]</text>
<text transform="translate(16.16,610.95) rotate(-90) scale(0.69,1)" x="0" y="0" font-size="9.6" text-anchor="middle" fill="#2a2a2a" class="lab" textLength="85.65" lengthAdjust="spacing">EC<tspan font-size="5.6" dy="3.3">50</tspan><tspan dy="-3.3"> </tspan>S63845 [nM]</text>
<circle cx="204.90" cy="584.40" r="1.3" fill="#112240"/>
<circle cx="188.60" cy="585.00" r="1.3" fill="#112240"/>
<circle cx="184.60" cy="590.20" r="1.3" fill="#112240"/>
<circle cx="172.30" cy="602.20" r="1.3" fill="#112240"/>
<circle cx="151.00" cy="598.75" r="1.3" fill="#112240"/>
<circle cx="119.60" cy="607.10" r="1.3" fill="#112240"/>
<circle cx="139.75" cy="608.10" r="1.3" fill="#112240"/>
<circle cx="143.10" cy="610.25" r="1.3" fill="#112240"/>
<circle cx="144.00" cy="611.00" r="1.3" fill="#112240"/>
<circle cx="143.10" cy="611.60" r="1.3" fill="#112240"/>
<circle cx="97.50" cy="615.00" r="1.3" fill="#112240"/>
<circle cx="116.90" cy="615.90" r="1.3" fill="#112240"/>
<circle cx="105.60" cy="620.40" r="1.3" fill="#112240"/>
<circle cx="132.25" cy="617.90" r="1.3" fill="#112240"/>
<circle cx="140.40" cy="617.50" r="1.3" fill="#112240"/>
<circle cx="148.10" cy="620.90" r="1.3" fill="#112240"/>
<circle cx="136.90" cy="622.75" r="1.3" fill="#112240"/>
<circle cx="130.60" cy="625.00" r="1.3" fill="#112240"/>
<circle cx="121.60" cy="627.50" r="1.3" fill="#112240"/>
<circle cx="111.60" cy="628.25" r="1.3" fill="#112240"/>
<circle cx="101.90" cy="629.00" r="1.3" fill="#112240"/>
<circle cx="136.90" cy="628.50" r="1.3" fill="#112240"/>
<circle cx="136.90" cy="630.40" r="1.3" fill="#112240"/>
<circle cx="101.50" cy="637.90" r="1.3" fill="#112240"/>
<circle cx="98.50" cy="639.25" r="1.3" fill="#112240"/>
<circle cx="142.50" cy="637.25" r="1.3" fill="#112240"/>
<circle cx="116.25" cy="643.75" r="1.3" fill="#112240"/>
<text x="294.90" y="551.20" font-size="12.2" text-anchor="start" fill="#000" font-weight="bold" >H</text>
<line x1="351.10" y1="556.50" x2="351.10" y2="661.50" stroke="#1a1a1a" stroke-width="1.1" />
<line x1="347.10" y1="559.60" x2="351.10" y2="559.60" stroke="#1a1a1a" stroke-width="1.1" />
<text x="343.90" y="562.65" font-size="8.6" text-anchor="end" fill="#2a2a2a" font-weight="normal" letter-spacing="0.4">100000</text>
<line x1="347.10" y1="585.00" x2="351.10" y2="585.00" stroke="#1a1a1a" stroke-width="1.1" />
<text x="343.90" y="588.05" font-size="8.6" text-anchor="end" fill="#2a2a2a" font-weight="normal" letter-spacing="0.4">10000</text>
<line x1="347.10" y1="610.40" x2="351.10" y2="610.40" stroke="#1a1a1a" stroke-width="1.1" />
<text x="343.90" y="613.45" font-size="8.6" text-anchor="end" fill="#2a2a2a" font-weight="normal" letter-spacing="0.4">1000</text>
<line x1="347.10" y1="635.70" x2="351.10" y2="635.70" stroke="#1a1a1a" stroke-width="1.1" />
<text x="343.90" y="638.75" font-size="8.6" text-anchor="end" fill="#2a2a2a" font-weight="normal" letter-spacing="0.4">100</text>
<line x1="347.10" y1="661.00" x2="351.10" y2="661.00" stroke="#1a1a1a" stroke-width="1.1" />
<text x="343.90" y="664.05" font-size="8.6" text-anchor="end" fill="#2a2a2a" font-weight="normal" letter-spacing="0.4">10</text>
<line x1="350.60" y1="660.90" x2="505.00" y2="660.90" stroke="#1a1a1a" stroke-width="1.1" />
<line x1="351.10" y1="660.90" x2="351.10" y2="664.40" stroke="#1a1a1a" stroke-width="1.1" />
<text x="351.30" y="674.75" font-size="8.6" text-anchor="middle" fill="#2a2a2a" font-weight="normal" letter-spacing="0.4">0.1</text>
<line x1="388.90" y1="660.90" x2="388.90" y2="664.40" stroke="#1a1a1a" stroke-width="1.1" />
<text x="389.10" y="674.75" font-size="8.6" text-anchor="middle" fill="#2a2a2a" font-weight="normal" letter-spacing="0.4">1</text>
<line x1="426.70" y1="660.90" x2="426.70" y2="664.40" stroke="#1a1a1a" stroke-width="1.1" />
<text x="426.90" y="674.75" font-size="8.6" text-anchor="middle" fill="#2a2a2a" font-weight="normal" letter-spacing="0.4">10</text>
<line x1="464.50" y1="660.90" x2="464.50" y2="664.40" stroke="#1a1a1a" stroke-width="1.1" />
<text x="464.70" y="674.75" font-size="8.6" text-anchor="middle" fill="#2a2a2a" font-weight="normal" letter-spacing="0.4">100</text>
<line x1="502.30" y1="660.90" x2="502.30" y2="664.40" stroke="#1a1a1a" stroke-width="1.1" />
<text x="502.50" y="674.75" font-size="8.6" text-anchor="middle" fill="#2a2a2a" font-weight="normal" letter-spacing="0.4">1000</text>
<text x="388.75" y="561.05" font-size="8.6" fill="#2a2a2a" textLength="73.75" lengthAdjust="spacingAndGlyphs">r = 0.557, <tspan font-style="italic">P</tspan> = .003</text>
<text transform="translate(393.80,690.90) scale(0.58,1)" x="0" y="0" font-size="11.4" fill="#2a2a2a" class="lab" textLength="111.55" lengthAdjust="spacing">EC<tspan font-size="5.6" dy="3.3">50</tspan><tspan dy="-3.3"> </tspan>AZD4320 [nM]</text>
<text transform="translate(302.66,613.20) rotate(-90) scale(0.69,1)" x="0" y="0" font-size="9.6" text-anchor="middle" fill="#2a2a2a" class="lab" textLength="93.91" lengthAdjust="spacing">EC<tspan font-size="5.6" dy="3.3">50</tspan><tspan dy="-3.3"> </tspan>AZD5991 [nM]</text>
<circle cx="464.25" cy="567.25" r="1.3" fill="#112240"/>
<circle cx="457.25" cy="581.25" r="1.3" fill="#112240"/>
<circle cx="437.50" cy="584.50" r="1.3" fill="#112240"/>
<circle cx="426.75" cy="595.00" r="1.3" fill="#112240"/>
<circle cx="421.00" cy="612.75" r="1.3" fill="#112240"/>
<circle cx="457.25" cy="615.50" r="1.3" fill="#112240"/>
<circle cx="406.50" cy="620.00" r="1.3" fill="#112240"/>
<circle cx="415.75" cy="619.00" r="1.3" fill="#112240"/>
<circle cx="419.25" cy="619.75" r="1.3" fill="#112240"/>
<circle cx="444.75" cy="619.75" r="1.3" fill="#112240"/>
<circle cx="451.00" cy="622.50" r="1.3" fill="#112240"/>
<circle cx="430.75" cy="621.75" r="1.3" fill="#112240"/>
<circle cx="411.75" cy="625.00" r="1.3" fill="#112240"/>
<circle cx="421.25" cy="625.00" r="1.3" fill="#112240"/>
<circle cx="428.25" cy="625.00" r="1.3" fill="#112240"/>
<circle cx="435.75" cy="628.75" r="1.3" fill="#112240"/>
<circle cx="428.25" cy="630.00" r="1.3" fill="#112240"/>
<circle cx="411.25" cy="638.00" r="1.3" fill="#112240"/>
<circle cx="415.75" cy="639.50" r="1.3" fill="#112240"/>
<circle cx="404.00" cy="641.50" r="1.3" fill="#112240"/>
<circle cx="413.00" cy="642.25" r="1.3" fill="#112240"/>
<circle cx="424.00" cy="646.25" r="1.3" fill="#112240"/>
<circle cx="395.00" cy="654.75" r="1.3" fill="#112240"/>
<circle cx="408.50" cy="654.25" r="1.3" fill="#112240"/>
<circle cx="421.75" cy="651.50" r="1.3" fill="#112240"/>
<circle cx="376.25" cy="657.25" r="1.3" fill="#112240"/>
<circle cx="429.75" cy="658.25" r="1.3" fill="#112240"/>
</svg></body></html>
